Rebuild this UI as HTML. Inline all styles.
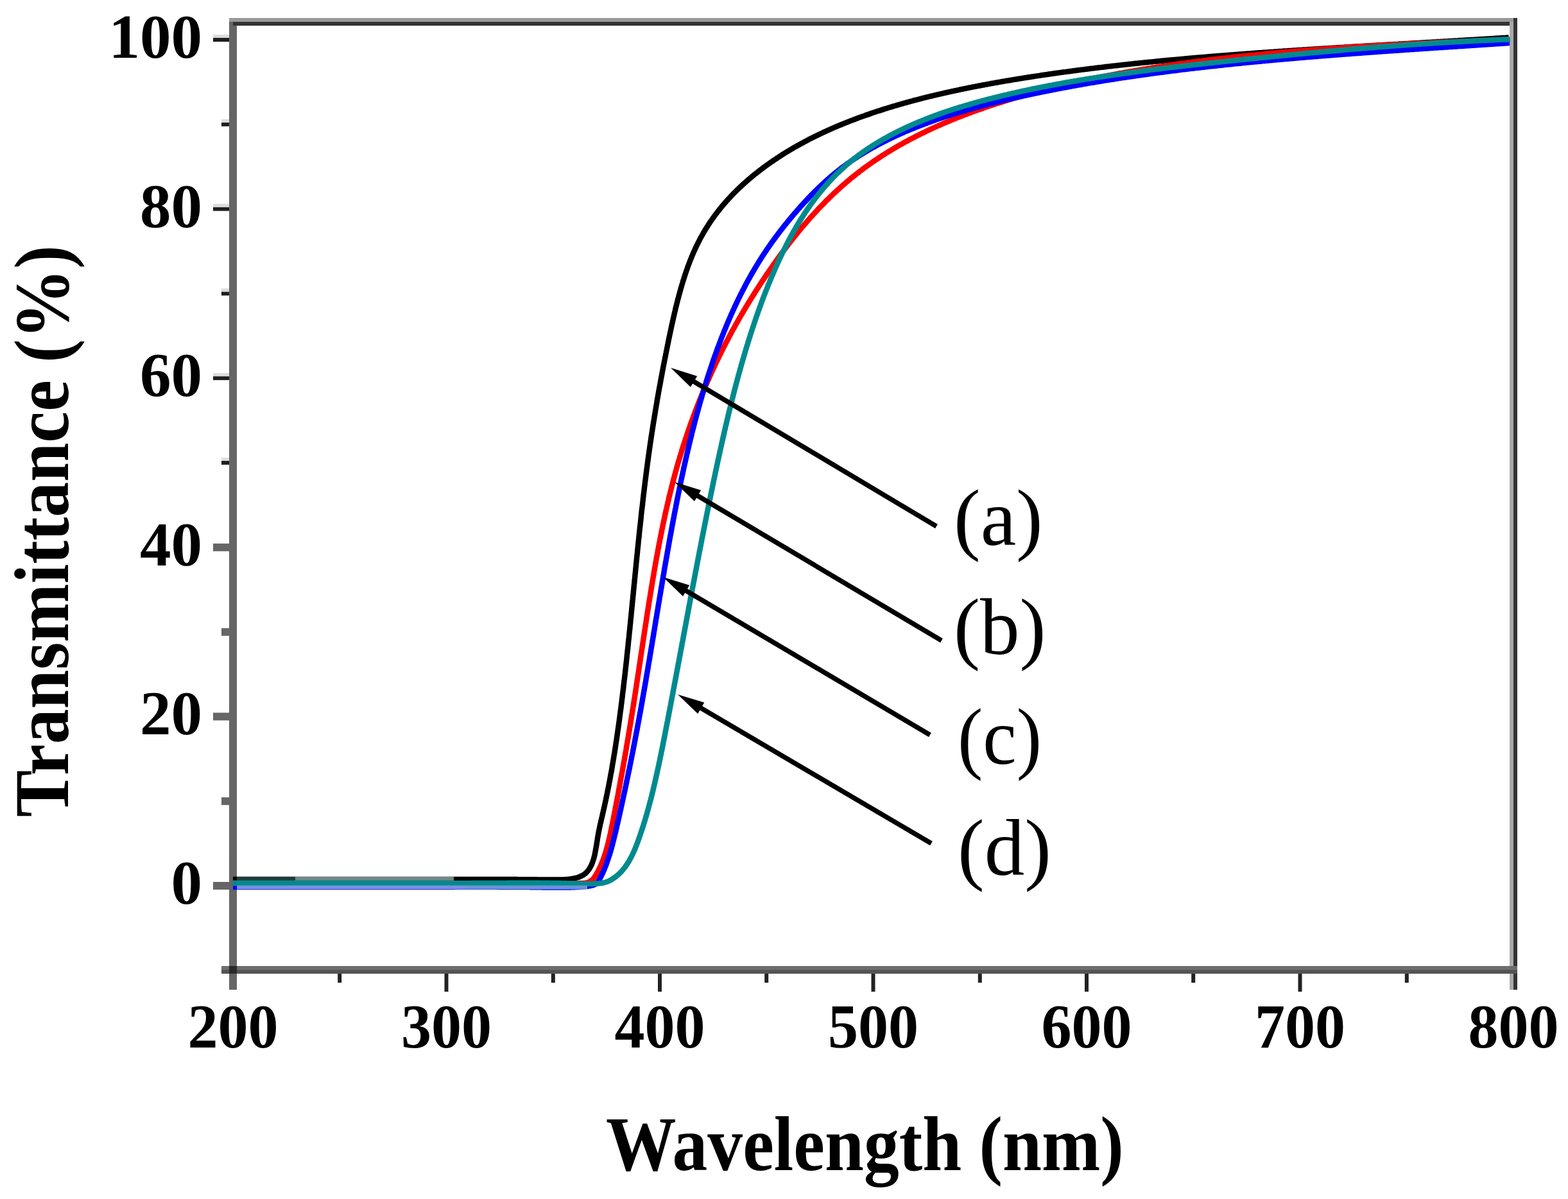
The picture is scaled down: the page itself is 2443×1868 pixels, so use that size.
<!DOCTYPE html>
<html><head><meta charset="utf-8"><title>Transmittance spectra</title>
<style>
html,body{margin:0;padding:0;background:#fff;}
body{width:2443px;height:1868px;overflow:hidden;}
svg{display:block;}
.b{font-family:"Liberation Serif","Times New Roman",serif;font-weight:bold;fill:#000;}
.t{}
.r{font-family:"Liberation Serif","Times New Roman",serif;font-weight:normal;fill:#000;}
</style></head>
<body>
<svg width="2443" height="1868" viewBox="0 0 2443 1868">
<rect width="2443" height="1868" fill="#fff"/>
<rect x="357" y="28" width="12" height="1514" fill="#666"/>
<rect x="357" y="28" width="2007" height="6" fill="#999"/>
<rect x="363" y="34" width="2001" height="6" fill="#333"/>
<rect x="2352" y="34" width="6" height="1508" fill="#aaa"/>
<rect x="2358" y="28" width="6" height="1514" fill="#333"/>
<rect x="345" y="1505" width="2019" height="6" fill="#6e6e6e"/>
<rect x="345" y="1511" width="2019" height="6" fill="#545454"/>
<rect x="357" y="1505" width="12" height="12" fill="#2a2a2a"/>
<rect x="332.0" y="1374.0" width="25" height="12" fill="#666"/>
<rect x="345.0" y="1242.2" width="12" height="12" fill="#666"/>
<rect x="332.0" y="1110.4" width="25" height="12" fill="#666"/>
<rect x="345.0" y="978.6" width="12" height="12" fill="#666"/>
<rect x="332.0" y="846.8" width="25" height="12" fill="#666"/>
<rect x="345.0" y="718.0" width="12" height="6" fill="#1e1e1e"/>
<rect x="345.0" y="713.0" width="12" height="5" fill="#dcdcdc"/>
<rect x="332.0" y="586.2" width="25" height="6" fill="#1e1e1e"/>
<rect x="332.0" y="581.2" width="25" height="5" fill="#dcdcdc"/>
<rect x="345.0" y="454.4" width="12" height="6" fill="#1e1e1e"/>
<rect x="345.0" y="449.4" width="12" height="5" fill="#dcdcdc"/>
<rect x="332.0" y="322.6" width="25" height="6" fill="#1e1e1e"/>
<rect x="332.0" y="317.6" width="25" height="5" fill="#dcdcdc"/>
<rect x="345.0" y="190.8" width="12" height="6" fill="#1e1e1e"/>
<rect x="345.0" y="185.8" width="12" height="5" fill="#dcdcdc"/>
<rect x="332.0" y="59.0" width="25" height="6" fill="#1e1e1e"/>
<rect x="332.0" y="54.0" width="25" height="5" fill="#dcdcdc"/>
<rect x="526.2" y="1517" width="6" height="14" fill="#222"/>
<rect x="692.5" y="1517" width="6" height="28" fill="#222"/>
<rect x="858.8" y="1517" width="6" height="14" fill="#222"/>
<rect x="1025.0" y="1517" width="6" height="28" fill="#222"/>
<rect x="1191.2" y="1517" width="6" height="14" fill="#222"/>
<rect x="1357.5" y="1517" width="6" height="28" fill="#222"/>
<rect x="1523.8" y="1517" width="6" height="14" fill="#222"/>
<rect x="1690.0" y="1517" width="6" height="28" fill="#222"/>
<rect x="1856.2" y="1517" width="6" height="14" fill="#222"/>
<rect x="2022.5" y="1517" width="6" height="28" fill="#222"/>
<rect x="2188.8" y="1517" width="6" height="14" fill="#222"/>
<path d="M363.0,1370.0 L365.0,1370.0 L367.0,1370.0 L369.0,1370.0 L371.0,1370.0 L373.0,1370.0 L375.0,1370.0 L377.0,1370.0 L379.0,1370.0 L381.0,1370.0 L383.0,1370.0 L385.0,1370.0 L387.0,1370.0 L389.0,1370.0 L391.0,1370.0 L393.0,1370.0 L395.0,1370.0 L397.0,1370.0 L399.0,1370.0 L401.0,1370.0 L403.0,1370.0 L405.0,1370.0 L407.0,1370.0 L409.0,1370.0 L411.0,1370.0 L413.0,1370.0 L415.0,1370.0 L417.0,1370.0 L419.0,1370.0 L421.0,1370.0 L423.0,1370.0 L425.0,1370.0 L427.0,1370.0 L429.0,1370.0 L431.0,1370.0 L433.0,1370.0 L435.0,1370.0 L437.0,1370.0 L439.0,1370.0 L441.0,1370.0 L443.0,1370.0 L445.0,1370.0 L447.0,1370.0 L449.0,1370.0 L451.0,1370.0 L453.0,1370.0 L455.0,1370.0 L457.0,1370.0 L459.0,1370.0 L461.0,1370.0 L463.0,1370.0 L465.0,1370.0 L467.0,1370.0 L469.0,1370.0 L471.0,1370.0 L473.0,1370.0 L475.0,1370.0 L477.0,1370.0 L479.0,1370.0 L481.0,1370.0 L483.0,1370.0 L485.0,1370.0 L487.0,1370.0 L489.0,1370.0 L491.0,1370.0 L493.0,1370.0 L495.0,1370.0 L497.0,1370.0 L499.0,1370.0 L501.0,1370.0 L503.0,1370.0 L505.0,1370.0 L507.0,1370.0 L509.0,1370.0 L511.0,1370.0 L513.0,1370.0 L515.0,1370.0 L517.0,1370.0 L519.0,1370.0 L521.0,1370.0 L523.0,1370.0 L525.0,1370.0 L527.0,1370.0 L529.0,1370.0 L531.0,1370.0 L533.0,1370.0 L535.0,1370.0 L537.0,1370.0 L539.0,1370.0 L541.0,1370.0 L543.0,1370.0 L545.0,1370.0 L547.0,1370.0 L549.0,1370.0 L551.0,1370.0 L553.0,1370.0 L555.0,1370.0 L557.0,1370.0 L559.0,1370.0 L561.0,1370.0 L563.0,1370.0 L565.0,1370.0 L567.0,1370.0 L569.0,1370.0 L571.0,1370.0 L573.0,1370.0 L575.0,1370.0 L577.0,1370.0 L579.0,1370.0 L581.0,1370.0 L583.0,1370.0 L585.0,1370.0 L587.0,1370.0 L589.0,1370.0 L591.0,1370.0 L593.0,1370.0 L595.0,1370.0 L597.0,1370.0 L599.0,1370.0 L601.0,1370.0 L603.0,1370.0 L605.0,1370.0 L607.0,1370.0 L609.0,1370.0 L611.0,1370.0 L613.0,1370.0 L615.0,1370.0 L617.0,1370.0 L619.0,1370.0 L621.0,1370.0 L623.0,1370.0 L625.0,1370.0 L627.0,1370.0 L629.0,1370.0 L631.0,1370.0 L633.0,1370.0 L635.0,1370.0 L637.0,1370.0 L639.0,1370.0 L641.0,1370.0 L643.0,1370.0 L645.0,1370.0 L647.0,1370.0 L649.0,1370.0 L651.0,1370.0 L653.0,1370.0 L655.0,1370.0 L657.0,1370.0 L659.0,1370.0 L661.0,1370.0 L663.0,1370.0 L665.0,1370.0 L666.9,1369.9 L668.9,1369.9 L670.9,1369.9 L672.9,1369.9 L674.9,1369.9 L676.9,1369.9 L678.9,1369.9 L680.9,1369.9 L682.9,1369.9 L684.9,1369.9 L686.9,1369.9 L688.9,1369.9 L690.9,1369.9 L692.9,1369.9 L694.9,1369.9 L696.9,1369.9 L698.9,1369.9 L700.9,1369.9 L702.9,1369.9 L704.9,1369.9 L706.9,1369.9 L708.9,1369.9 L710.9,1369.9 L712.9,1369.9 L714.9,1369.9 L716.9,1369.9 L718.9,1369.9 L720.9,1369.9 L722.9,1369.9 L724.9,1369.9 L726.9,1369.9 L728.9,1369.9 L730.9,1369.9 L732.9,1369.9 L734.9,1369.9 L736.9,1369.9 L738.9,1369.9 L740.9,1369.9 L742.9,1369.9 L744.9,1369.9 L746.9,1369.9 L748.9,1369.9 L750.9,1369.9 L752.9,1369.9 L754.9,1369.9 L757.0,1370.0 L759.0,1370.0 L761.0,1370.0 L763.0,1370.0 L765.0,1370.0 L767.0,1370.0 L769.0,1370.0 L771.0,1370.0 L773.0,1370.0 L775.0,1370.0 L777.0,1370.0 L779.0,1370.0 L781.0,1370.0 L783.0,1370.0 L785.0,1370.0 L787.1,1370.1 L789.1,1370.1 L791.1,1370.1 L793.1,1370.1 L795.1,1370.1 L797.1,1370.1 L799.1,1370.1 L801.1,1370.1 L803.1,1370.1 L805.1,1370.1 L807.2,1370.2 L809.2,1370.2 L811.2,1370.2 L813.2,1370.2 L815.2,1370.2 L817.2,1370.2 L819.2,1370.2 L821.2,1370.2 L823.3,1370.3 L825.3,1370.3 L827.3,1370.3 L829.3,1370.3 L831.3,1370.3 L833.3,1370.3 L835.3,1370.3 L837.4,1370.4 L839.4,1370.4 L841.4,1370.4 L843.4,1370.4 L845.4,1370.4 L847.4,1370.4 L849.5,1370.5 L851.5,1370.5 L853.5,1370.5 L855.5,1370.5 L857.5,1370.5 L859.5,1370.5 L861.6,1370.6 L863.6,1370.6 L865.6,1370.6 L867.6,1370.6 L869.6,1370.6 L871.5,1370.5 L873.5,1370.5 L875.4,1370.4 L877.4,1370.4 L879.3,1370.3 L881.2,1370.2 L883.0,1370.0 L884.9,1369.9 L886.7,1369.7 L888.5,1369.5 L890.2,1369.2 L891.9,1368.9 L893.6,1368.6 L895.3,1368.3 L896.9,1367.9 L898.5,1367.5 L900.1,1367.1 L901.6,1366.6 L903.0,1366.0 L904.4,1365.4 L905.8,1364.8 L907.1,1364.1 L908.4,1363.4 L909.6,1362.6 L910.8,1361.8 L911.9,1360.9 L912.9,1359.9 L913.9,1358.9 L914.9,1357.9 L915.8,1356.8 L916.7,1355.7 L917.6,1354.6 L918.4,1353.4 L919.1,1352.1 L919.8,1350.8 L920.5,1349.5 L921.2,1348.2 L921.8,1346.8 L922.4,1345.4 L923.0,1344.0 L923.5,1342.5 L924.0,1341.0 L924.5,1339.5 L925.0,1338.0 L925.4,1336.4 L925.8,1334.8 L926.2,1333.2 L926.6,1331.6 L926.9,1329.9 L927.3,1328.3 L927.6,1326.6 L927.9,1324.9 L928.2,1323.2 L928.5,1321.5 L928.8,1319.8 L929.1,1318.1 L929.4,1316.4 L929.7,1314.7 L929.9,1312.9 L930.2,1311.2 L930.5,1309.5 L930.8,1307.8 L931.0,1306.0 L931.3,1304.3 L931.6,1302.6 L931.9,1300.9 L932.2,1299.2 L932.5,1297.5 L932.8,1295.8 L933.1,1294.1 L933.5,1292.5 L933.8,1290.8 L934.2,1289.2 L934.5,1287.5 L934.9,1285.9 L935.2,1284.2 L935.6,1282.6 L936.0,1281.0 L936.4,1279.4 L936.7,1277.7 L937.1,1276.1 L937.5,1274.5 L937.9,1272.9 L938.3,1271.3 L938.6,1269.6 L939.0,1268.0 L939.4,1266.4 L939.8,1264.8 L940.1,1263.1 L940.5,1261.5 L940.9,1259.9 L941.2,1258.2 L941.6,1256.6 L942.0,1255.0 L942.3,1253.3 L942.7,1251.7 L943.0,1250.0 L943.4,1248.4 L943.8,1246.8 L944.1,1245.1 L944.4,1243.4 L944.8,1241.8 L945.1,1240.1 L945.5,1238.5 L945.8,1236.8 L946.2,1235.2 L946.5,1233.5 L946.8,1231.8 L947.2,1230.2 L947.5,1228.5 L947.8,1226.8 L948.2,1225.2 L948.5,1223.5 L948.8,1221.8 L949.1,1220.1 L949.4,1218.4 L949.8,1216.8 L950.1,1215.1 L950.4,1213.4 L950.7,1211.7 L951.0,1210.0 L951.3,1208.3 L951.6,1206.6 L951.9,1204.9 L952.3,1203.3 L952.6,1201.6 L952.9,1199.9 L953.2,1198.2 L953.5,1196.5 L953.7,1194.7 L954.0,1193.0 L954.3,1191.3 L954.6,1189.6 L954.9,1187.9 L955.2,1186.2 L955.5,1184.5 L955.8,1182.8 L956.1,1181.1 L956.3,1179.3 L956.6,1177.6 L956.9,1175.9 L957.2,1174.2 L957.5,1172.5 L957.7,1170.7 L958.0,1169.0 L958.3,1167.3 L958.6,1165.6 L958.8,1163.8 L959.1,1162.1 L959.4,1160.4 L959.6,1158.6 L959.9,1156.9 L960.1,1155.1 L960.4,1153.4 L960.7,1151.7 L960.9,1149.9 L961.2,1148.2 L961.4,1146.4 L961.7,1144.7 L961.9,1142.9 L962.2,1141.2 L962.4,1139.4 L962.7,1137.7 L962.9,1135.9 L963.2,1134.2 L963.4,1132.4 L963.7,1130.7 L963.9,1128.9 L964.2,1127.2 L964.4,1125.4 L964.7,1123.7 L964.9,1121.9 L965.1,1120.1 L965.4,1118.4 L965.6,1116.6 L965.8,1114.8 L966.1,1113.1 L966.3,1111.3 L966.5,1109.5 L966.8,1107.8 L967.0,1106.0 L967.2,1104.2 L967.5,1102.5 L967.7,1100.7 L967.9,1098.9 L968.1,1097.1 L968.4,1095.4 L968.6,1093.6 L968.8,1091.8 L969.0,1090.0 L969.2,1088.2 L969.5,1086.5 L969.7,1084.7 L969.9,1082.9 L970.1,1081.1 L970.3,1079.3 L970.5,1077.5 L970.8,1075.8 L971.0,1074.0 L971.2,1072.2 L971.4,1070.4 L971.6,1068.6 L971.8,1066.8 L972.0,1065.0 L972.2,1063.2 L972.4,1061.4 L972.6,1059.6 L972.9,1057.9 L973.1,1056.1 L973.3,1054.3 L973.5,1052.5 L973.7,1050.7 L973.9,1048.9 L974.1,1047.1 L974.3,1045.3 L974.5,1043.5 L974.7,1041.7 L974.9,1039.9 L975.1,1038.1 L975.3,1036.3 L975.5,1034.5 L975.7,1032.7 L975.9,1030.9 L976.1,1029.1 L976.3,1027.3 L976.5,1025.5 L976.7,1023.7 L976.8,1021.8 L977.0,1020.0 L977.2,1018.2 L977.4,1016.4 L977.6,1014.6 L977.8,1012.8 L978.0,1011.0 L978.2,1009.2 L978.4,1007.4 L978.6,1005.6 L978.8,1003.8 L978.9,1001.9 L979.1,1000.1 L979.3,998.3 L979.5,996.5 L979.7,994.7 L979.9,992.9 L980.1,991.1 L980.2,989.2 L980.4,987.4 L980.6,985.6 L980.8,983.8 L981.0,982.0 L981.2,980.2 L981.4,978.4 L981.5,976.5 L981.7,974.7 L981.9,972.9 L982.1,971.1 L982.3,969.3 L982.4,967.4 L982.6,965.6 L982.8,963.8 L983.0,962.0 L983.2,960.2 L983.4,958.4 L983.5,956.5 L983.7,954.7 L983.9,952.9 L984.1,951.1 L984.3,949.3 L984.4,947.4 L984.6,945.6 L984.8,943.8 L985.0,942.0 L985.1,940.1 L985.3,938.3 L985.5,936.5 L985.7,934.7 L985.9,932.9 L986.0,931.0 L986.2,929.2 L986.4,927.4 L986.6,925.6 L986.8,923.8 L986.9,921.9 L987.1,920.1 L987.3,918.3 L987.5,916.5 L987.6,914.6 L987.8,912.8 L988.0,911.0 L988.2,909.2 L988.4,907.4 L988.5,905.5 L988.7,903.7 L988.9,901.9 L989.1,900.1 L989.3,898.3 L989.4,896.4 L989.6,894.6 L989.8,892.8 L990.0,891.0 L990.2,889.2 L990.3,887.3 L990.5,885.5 L990.7,883.7 L990.9,881.9 L991.1,880.1 L991.2,878.2 L991.4,876.4 L991.6,874.6 L991.8,872.8 L992.0,871.0 L992.1,869.1 L992.3,867.3 L992.5,865.5 L992.7,863.7 L992.9,861.9 L993.1,860.1 L993.2,858.2 L993.4,856.4 L993.6,854.6 L993.8,852.8 L994.0,851.0 L994.2,849.2 L994.4,847.4 L994.5,845.5 L994.7,843.7 L994.9,841.9 L995.1,840.1 L995.3,838.3 L995.5,836.5 L995.7,834.7 L995.9,832.9 L996.0,831.0 L996.2,829.2 L996.4,827.4 L996.6,825.6 L996.8,823.8 L997.0,822.0 L997.2,820.2 L997.4,818.4 L997.6,816.6 L997.8,814.8 L998.0,813.0 L998.2,811.2 L998.4,809.4 L998.6,807.6 L998.8,805.8 L998.9,803.9 L999.1,802.1 L999.3,800.3 L999.5,798.5 L999.7,796.7 L999.9,794.9 L1000.1,793.1 L1000.4,791.4 L1000.6,789.6 L1000.8,787.8 L1001.0,786.0 L1001.2,784.2 L1001.4,782.4 L1001.6,780.6 L1001.8,778.8 L1002.0,777.0 L1002.2,775.2 L1002.4,773.4 L1002.6,771.6 L1002.8,769.8 L1003.0,768.0 L1003.3,766.3 L1003.5,764.5 L1003.7,762.7 L1003.9,760.9 L1004.1,759.1 L1004.3,757.3 L1004.6,755.6 L1004.8,753.8 L1005.0,752.0 L1005.2,750.2 L1005.4,748.4 L1005.7,746.7 L1005.9,744.9 L1006.1,743.1 L1006.3,741.3 L1006.6,739.6 L1006.8,737.8 L1007.0,736.0 L1007.2,734.2 L1007.5,732.5 L1007.7,730.7 L1007.9,728.9 L1008.2,727.2 L1008.4,725.4 L1008.6,723.6 L1008.9,721.9 L1009.1,720.1 L1009.3,718.3 L1009.6,716.6 L1009.8,714.8 L1010.1,713.1 L1010.3,711.3 L1010.5,709.5 L1010.8,707.8 L1011.0,706.0 L1011.3,704.3 L1011.5,702.5 L1011.8,700.8 L1012.0,699.0 L1012.3,697.3 L1012.5,695.5 L1012.8,693.8 L1013.0,692.0 L1013.3,690.3 L1013.5,688.5 L1013.8,686.8 L1014.1,685.1 L1014.3,683.3 L1014.6,681.6 L1014.8,679.8 L1015.1,678.1 L1015.4,676.4 L1015.6,674.6 L1015.9,672.9 L1016.2,671.2 L1016.4,669.4 L1016.7,667.7 L1017.0,666.0 L1017.2,664.2 L1017.5,662.5 L1017.8,660.8 L1018.1,659.1 L1018.3,657.3 L1018.6,655.6 L1018.9,653.9 L1019.2,652.2 L1019.4,650.4 L1019.7,648.7 L1020.0,647.0 L1020.3,645.3 L1020.6,643.6 L1020.9,641.9 L1021.1,640.1 L1021.4,638.4 L1021.7,636.7 L1022.0,635.0 L1022.3,633.3 L1022.6,631.6 L1022.9,629.9 L1023.2,628.2 L1023.5,626.5 L1023.7,624.7 L1024.0,623.0 L1024.3,621.3 L1024.6,619.6 L1024.9,617.9 L1025.2,616.2 L1025.5,614.5 L1025.8,612.8 L1026.1,611.1 L1026.4,609.4 L1026.7,607.7 L1027.0,606.0 L1027.3,604.3 L1027.6,602.6 L1028.0,601.0 L1028.3,599.3 L1028.6,597.6 L1028.9,595.9 L1029.2,594.2 L1029.5,592.5 L1029.8,590.8 L1030.1,589.1 L1030.4,587.4 L1030.8,585.8 L1031.1,584.1 L1031.4,582.4 L1031.7,580.7 L1032.0,579.0 L1032.3,577.3 L1032.7,575.7 L1033.0,574.0 L1033.3,572.3 L1033.6,570.6 L1033.9,568.9 L1034.3,567.3 L1034.6,565.6 L1034.9,563.9 L1035.2,562.2 L1035.6,560.6 L1035.9,558.9 L1036.2,557.2 L1036.6,555.6 L1036.9,553.9 L1037.2,552.2 L1037.6,550.6 L1037.9,548.9 L1038.2,547.2 L1038.6,545.6 L1038.9,543.9 L1039.2,542.2 L1039.6,540.6 L1039.9,538.9 L1040.2,537.2 L1040.6,535.6 L1040.9,533.9 L1041.3,532.3 L1041.6,530.6 L1041.9,528.9 L1042.3,527.3 L1042.6,525.6 L1043.0,524.0 L1043.3,522.3 L1043.7,520.7 L1044.0,519.0 L1044.4,517.4 L1044.7,515.7 L1045.1,514.1 L1045.4,512.4 L1045.8,510.8 L1046.1,509.1 L1046.5,507.5 L1046.8,505.8 L1047.2,504.2 L1047.6,502.6 L1047.9,500.9 L1048.3,499.3 L1048.7,497.7 L1049.0,496.0 L1049.4,494.4 L1049.8,492.8 L1050.2,491.2 L1050.5,489.5 L1050.9,487.9 L1051.3,486.3 L1051.7,484.7 L1052.1,483.1 L1052.4,481.4 L1052.8,479.8 L1053.2,478.2 L1053.6,476.6 L1054.0,475.0 L1054.4,473.4 L1054.8,471.8 L1055.2,470.2 L1055.6,468.6 L1056.0,467.0 L1056.4,465.4 L1056.9,463.9 L1057.3,462.3 L1057.7,460.7 L1058.1,459.1 L1058.6,457.6 L1059.0,456.0 L1059.4,454.4 L1059.9,452.9 L1060.3,451.3 L1060.7,449.7 L1061.2,448.2 L1061.6,446.6 L1062.1,445.1 L1062.5,443.5 L1063.0,442.0 L1063.5,440.5 L1063.9,438.9 L1064.4,437.4 L1064.9,435.9 L1065.4,434.4 L1065.8,432.8 L1066.3,431.3 L1066.8,429.8 L1067.3,428.3 L1067.8,426.8 L1068.3,425.3 L1068.8,423.8 L1069.3,422.3 L1069.8,420.8 L1070.4,419.4 L1070.9,417.9 L1071.4,416.4 L1071.9,414.9 L1072.5,413.5 L1073.0,412.0 L1073.6,410.6 L1074.1,409.1 L1074.7,407.7 L1075.2,406.2 L1075.8,404.8 L1076.4,403.4 L1077.0,402.0 L1077.5,400.5 L1078.1,399.1 L1078.7,397.7 L1079.3,396.3 L1079.9,394.9 L1080.5,393.5 L1081.1,392.1 L1081.7,390.7 L1082.4,389.4 L1083.0,388.0 L1083.6,386.6 L1084.3,385.3 L1084.9,383.9 L1085.5,382.5 L1086.2,381.2 L1086.9,379.9 L1087.5,378.5 L1088.2,377.2 L1088.9,375.9 L1089.6,374.6 L1090.2,373.2 L1090.9,371.9 L1091.6,370.6 L1092.3,369.3 L1093.1,368.1 L1093.8,366.8 L1094.5,365.5 L1095.2,364.2 L1095.9,362.9 L1096.7,361.7 L1097.4,360.4 L1098.2,359.2 L1098.9,357.9 L1099.7,356.7 L1100.4,355.4 L1101.2,354.2 L1102.0,353.0 L1102.8,351.8 L1103.5,350.5 L1104.3,349.3 L1105.1,348.1 L1105.9,346.9 L1106.7,345.7 L1107.5,344.5 L1108.4,343.4 L1109.2,342.2 L1110.0,341.0 L1110.8,339.8 L1111.7,338.7 L1112.5,337.5 L1113.3,336.3 L1114.2,335.2 L1115.0,334.0 L1115.9,332.9 L1116.8,331.8 L1117.6,330.6 L1118.5,329.5 L1119.4,328.4 L1120.3,327.3 L1121.1,326.1 L1122.0,325.0 L1122.9,323.9 L1123.8,322.8 L1124.7,321.7 L1125.6,320.6 L1126.6,319.6 L1127.5,318.5 L1128.4,317.4 L1129.3,316.3 L1130.3,315.3 L1131.2,314.2 L1132.1,313.1 L1133.1,312.1 L1134.0,311.0 L1135.0,310.0 L1135.9,308.9 L1136.9,307.9 L1137.9,306.9 L1138.8,305.8 L1139.8,304.8 L1140.8,303.8 L1141.8,302.8 L1142.7,301.7 L1143.7,300.7 L1144.7,299.7 L1145.7,298.7 L1146.7,297.7 L1147.7,296.7 L1148.7,295.7 L1149.8,294.8 L1150.8,293.8 L1151.8,292.8 L1152.8,291.8 L1153.9,290.9 L1154.9,289.9 L1155.9,288.9 L1157.0,288.0 L1158.0,287.0 L1159.1,286.1 L1160.1,285.1 L1161.2,284.2 L1162.2,283.2 L1163.3,282.3 L1164.4,281.4 L1165.4,280.4 L1166.5,279.5 L1167.6,278.6 L1168.7,277.7 L1169.8,276.8 L1170.9,275.9 L1171.9,274.9 L1173.0,274.0 L1174.1,273.1 L1175.2,272.2 L1176.3,271.3 L1177.5,270.5 L1178.6,269.6 L1179.7,268.7 L1180.8,267.8 L1181.9,266.9 L1183.1,266.1 L1184.2,265.2 L1185.3,264.3 L1186.5,263.5 L1187.6,262.6 L1188.7,261.7 L1189.9,260.9 L1191.0,260.0 L1192.2,259.2 L1193.3,258.3 L1194.5,257.5 L1195.7,256.7 L1196.8,255.8 L1198.0,255.0 L1199.2,254.2 L1200.3,253.3 L1201.5,252.5 L1202.7,251.7 L1203.9,250.9 L1205.1,250.1 L1206.3,249.3 L1207.5,248.5 L1208.7,247.7 L1209.9,246.9 L1211.1,246.1 L1212.3,245.3 L1213.5,244.5 L1214.7,243.7 L1215.9,242.9 L1217.1,242.1 L1218.3,241.3 L1219.6,240.6 L1220.8,239.8 L1222.0,239.0 L1223.3,238.3 L1224.5,237.5 L1225.7,236.7 L1227.0,236.0 L1228.2,235.2 L1229.5,234.5 L1230.7,233.7 L1232.0,233.0 L1233.2,232.2 L1234.5,231.5 L1235.8,230.8 L1237.0,230.0 L1238.3,229.3 L1239.6,228.6 L1240.9,227.9 L1242.1,227.1 L1243.4,226.4 L1244.7,225.7 L1246.0,225.0 L1247.3,224.3 L1248.6,223.6 L1249.9,222.9 L1251.2,222.2 L1252.5,221.5 L1253.8,220.8 L1255.1,220.1 L1256.4,219.4 L1257.7,218.7 L1259.0,218.0 L1260.3,217.3 L1261.6,216.6 L1263.0,216.0 L1264.3,215.3 L1265.6,214.6 L1267.0,214.0 L1268.3,213.3 L1269.6,212.6 L1271.0,212.0 L1272.3,211.3 L1273.7,210.7 L1275.0,210.0 L1276.4,209.4 L1277.7,208.7 L1279.1,208.1 L1280.4,207.4 L1281.8,206.8 L1283.1,206.1 L1284.5,205.5 L1285.9,204.9 L1287.3,204.3 L1288.6,203.6 L1290.0,203.0 L1291.4,202.4 L1292.8,201.8 L1294.2,201.2 L1295.5,200.5 L1296.9,199.9 L1298.3,199.3 L1299.7,198.7 L1301.1,198.1 L1302.5,197.5 L1303.9,196.9 L1305.3,196.3 L1306.7,195.7 L1308.1,195.1 L1309.6,194.6 L1311.0,194.0 L1312.4,193.4 L1313.8,192.8 L1315.2,192.2 L1316.7,191.7 L1318.1,191.1 L1319.5,190.5 L1321.0,190.0 L1322.4,189.4 L1323.8,188.8 L1325.3,188.3 L1326.7,187.7 L1328.2,187.2 L1329.6,186.6 L1331.1,186.1 L1332.5,185.5 L1334.0,185.0 L1335.4,184.4 L1336.9,183.9 L1338.3,183.3 L1339.8,182.8 L1341.3,182.3 L1342.7,181.7 L1344.2,181.2 L1345.7,180.7 L1347.2,180.2 L1348.6,179.6 L1350.1,179.1 L1351.6,178.6 L1353.1,178.1 L1354.6,177.6 L1356.1,177.1 L1357.5,176.5 L1359.0,176.0 L1360.5,175.5 L1362.0,175.0 L1363.5,174.5 L1365.0,174.0 L1366.5,173.5 L1368.0,173.0 L1369.6,172.6 L1371.1,172.1 L1372.6,171.6 L1374.1,171.1 L1375.6,170.6 L1377.1,170.1 L1378.6,169.6 L1380.2,169.2 L1381.7,168.7 L1383.2,168.2 L1384.8,167.8 L1386.3,167.3 L1387.8,166.8 L1389.4,166.4 L1390.9,165.9 L1392.4,165.4 L1394.0,165.0 L1395.5,164.5 L1397.1,164.1 L1398.6,163.6 L1400.2,163.2 L1401.7,162.7 L1403.3,162.3 L1404.8,161.8 L1406.4,161.4 L1407.9,160.9 L1409.5,160.5 L1411.1,160.1 L1412.6,159.6 L1414.2,159.2 L1415.8,158.8 L1417.3,158.3 L1418.9,157.9 L1420.5,157.5 L1422.1,157.1 L1423.6,156.6 L1425.2,156.2 L1426.8,155.8 L1428.4,155.4 L1430.0,155.0 L1431.6,154.6 L1433.2,154.2 L1434.7,153.7 L1436.3,153.3 L1437.9,152.9 L1439.5,152.5 L1441.1,152.1 L1442.7,151.7 L1444.3,151.3 L1445.9,150.9 L1447.5,150.5 L1449.1,150.1 L1450.8,149.8 L1452.4,149.4 L1454.0,149.0 L1455.6,148.6 L1457.2,148.2 L1458.8,147.8 L1460.4,147.4 L1462.1,147.1 L1463.7,146.7 L1465.3,146.3 L1466.9,145.9 L1468.6,145.6 L1470.2,145.2 L1471.8,144.8 L1473.5,144.5 L1475.1,144.1 L1476.7,143.7 L1478.4,143.4 L1480.0,143.0 L1481.6,142.6 L1483.3,142.3 L1484.9,141.9 L1486.6,141.6 L1488.2,141.2 L1489.9,140.9 L1491.5,140.5 L1493.2,140.2 L1494.8,139.8 L1496.5,139.5 L1498.1,139.1 L1499.8,138.8 L1501.4,138.4 L1503.1,138.1 L1504.8,137.8 L1506.4,137.4 L1508.1,137.1 L1509.7,136.7 L1511.4,136.4 L1513.1,136.1 L1514.7,135.7 L1516.4,135.4 L1518.1,135.1 L1519.8,134.8 L1521.4,134.4 L1523.1,134.1 L1524.8,133.8 L1526.5,133.5 L1528.2,133.2 L1529.8,132.8 L1531.5,132.5 L1533.2,132.2 L1534.9,131.9 L1536.6,131.6 L1538.3,131.3 L1539.9,130.9 L1541.6,130.6 L1543.3,130.3 L1545.0,130.0 L1546.7,129.7 L1548.4,129.4 L1550.1,129.1 L1551.8,128.8 L1553.5,128.5 L1555.2,128.2 L1556.9,127.9 L1558.6,127.6 L1560.3,127.3 L1562.0,127.0 L1563.7,126.7 L1565.4,126.4 L1567.1,126.1 L1568.8,125.8 L1570.6,125.6 L1572.3,125.3 L1574.0,125.0 L1575.7,124.7 L1577.4,124.4 L1579.1,124.1 L1580.8,123.8 L1582.6,123.6 L1584.3,123.3 L1586.0,123.0 L1587.7,122.7 L1589.4,122.4 L1591.2,122.2 L1592.9,121.9 L1594.6,121.6 L1596.3,121.3 L1598.1,121.1 L1599.8,120.8 L1601.5,120.5 L1603.2,120.2 L1605.0,120.0 L1606.7,119.7 L1608.4,119.4 L1610.2,119.2 L1611.9,118.9 L1613.6,118.6 L1615.4,118.4 L1617.1,118.1 L1618.9,117.9 L1620.6,117.6 L1622.3,117.3 L1624.1,117.1 L1625.8,116.8 L1627.6,116.6 L1629.3,116.3 L1631.1,116.1 L1632.8,115.8 L1634.5,115.5 L1636.3,115.3 L1638.0,115.0 L1639.8,114.8 L1641.5,114.5 L1643.3,114.3 L1645.0,114.0 L1646.8,113.8 L1648.6,113.6 L1650.3,113.3 L1652.1,113.1 L1653.8,112.8 L1655.6,112.6 L1657.3,112.3 L1659.1,112.1 L1660.9,111.9 L1662.6,111.6 L1664.4,111.4 L1666.2,111.2 L1667.9,110.9 L1669.7,110.7 L1671.4,110.4 L1673.2,110.2 L1675.0,110.0 L1676.7,109.7 L1678.5,109.5 L1680.3,109.3 L1682.1,109.1 L1683.8,108.8 L1685.6,108.6 L1687.4,108.4 L1689.2,108.2 L1690.9,107.9 L1692.7,107.7 L1694.5,107.5 L1696.3,107.3 L1698.0,107.0 L1699.8,106.8 L1701.6,106.6 L1703.4,106.4 L1705.2,106.2 L1706.9,105.9 L1708.7,105.7 L1710.5,105.5 L1712.3,105.3 L1714.1,105.1 L1715.9,104.9 L1717.7,104.7 L1719.5,104.5 L1721.2,104.2 L1723.0,104.0 L1724.8,103.8 L1726.6,103.6 L1728.4,103.4 L1730.2,103.2 L1732.0,103.0 L1733.8,102.8 L1735.6,102.6 L1737.4,102.4 L1739.2,102.2 L1741.0,102.0 L1742.8,101.8 L1744.6,101.6 L1746.4,101.4 L1748.2,101.2 L1750.0,101.0 L1751.8,100.8 L1753.6,100.6 L1755.4,100.4 L1757.2,100.2 L1759.0,100.0 L1760.8,99.8 L1762.6,99.6 L1764.4,99.4 L1766.2,99.2 L1768.0,99.0 L1769.8,98.8 L1771.7,98.7 L1773.5,98.5 L1775.3,98.3 L1777.1,98.1 L1778.9,97.9 L1780.7,97.7 L1782.5,97.5 L1784.3,97.3 L1786.2,97.2 L1788.0,97.0 L1789.8,96.8 L1791.6,96.6 L1793.4,96.4 L1795.3,96.3 L1797.1,96.1 L1798.9,95.9 L1800.7,95.7 L1802.5,95.5 L1804.4,95.4 L1806.2,95.2 L1808.0,95.0 L1809.8,94.8 L1811.7,94.7 L1813.5,94.5 L1815.3,94.3 L1817.1,94.1 L1819.0,94.0 L1820.8,93.8 L1822.6,93.6 L1824.5,93.5 L1826.3,93.3 L1828.1,93.1 L1829.9,92.9 L1831.8,92.8 L1833.6,92.6 L1835.4,92.4 L1837.3,92.3 L1839.1,92.1 L1840.9,91.9 L1842.8,91.8 L1844.6,91.6 L1846.5,91.5 L1848.3,91.3 L1850.1,91.1 L1852.0,91.0 L1853.8,90.8 L1855.6,90.6 L1857.5,90.5 L1859.3,90.3 L1861.2,90.2 L1863.0,90.0 L1864.8,89.8 L1866.7,89.7 L1868.5,89.5 L1870.4,89.4 L1872.2,89.2 L1874.1,89.1 L1875.9,88.9 L1877.8,88.8 L1879.6,88.6 L1881.5,88.5 L1883.3,88.3 L1885.1,88.1 L1887.0,88.0 L1888.8,87.8 L1890.7,87.7 L1892.5,87.5 L1894.4,87.4 L1896.2,87.2 L1898.1,87.1 L1900.0,87.0 L1901.8,86.8 L1903.7,86.7 L1905.5,86.5 L1907.4,86.4 L1909.2,86.2 L1911.1,86.1 L1912.9,85.9 L1914.8,85.8 L1916.6,85.6 L1918.5,85.5 L1920.4,85.4 L1922.2,85.2 L1924.1,85.1 L1925.9,84.9 L1927.8,84.8 L1929.6,84.6 L1931.5,84.5 L1933.4,84.4 L1935.2,84.2 L1937.1,84.1 L1939.0,84.0 L1940.8,83.8 L1942.7,83.7 L1944.5,83.5 L1946.4,83.4 L1948.3,83.3 L1950.1,83.1 L1952.0,83.0 L1953.9,82.9 L1955.7,82.7 L1957.6,82.6 L1959.5,82.5 L1961.3,82.3 L1963.2,82.2 L1965.1,82.1 L1966.9,81.9 L1968.8,81.8 L1970.7,81.7 L1972.5,81.5 L1974.4,81.4 L1976.3,81.3 L1978.1,81.1 L1980.0,81.0 L1981.9,80.9 L1983.8,80.8 L1985.6,80.6 L1987.5,80.5 L1989.4,80.4 L1991.2,80.2 L1993.1,80.1 L1995.0,80.0 L1996.9,79.9 L1998.7,79.7 L2000.6,79.6 L2002.5,79.5 L2004.4,79.4 L2006.2,79.2 L2008.1,79.1 L2010.0,79.0 L2011.9,78.9 L2013.7,78.7 L2015.6,78.6 L2017.5,78.5 L2019.4,78.4 L2021.2,78.2 L2023.1,78.1 L2025.0,78.0 L2026.9,77.9 L2028.7,77.7 L2030.6,77.6 L2032.5,77.5 L2034.4,77.4 L2036.3,77.3 L2038.1,77.1 L2040.0,77.0 L2041.9,76.9 L2043.8,76.8 L2045.7,76.7 L2047.5,76.5 L2049.4,76.4 L2051.3,76.3 L2053.2,76.2 L2055.1,76.1 L2057.0,76.0 L2058.8,75.8 L2060.7,75.7 L2062.6,75.6 L2064.5,75.5 L2066.4,75.4 L2068.3,75.3 L2070.1,75.1 L2072.0,75.0 L2073.9,74.9 L2075.8,74.8 L2077.7,74.7 L2079.6,74.6 L2081.4,74.4 L2083.3,74.3 L2085.2,74.2 L2087.1,74.1 L2089.0,74.0 L2090.9,73.9 L2092.8,73.8 L2094.6,73.6 L2096.5,73.5 L2098.4,73.4 L2100.3,73.3 L2102.2,73.2 L2104.1,73.1 L2106.0,73.0 L2107.8,72.8 L2109.7,72.7 L2111.6,72.6 L2113.5,72.5 L2115.4,72.4 L2117.3,72.3 L2119.2,72.2 L2121.1,72.1 L2123.0,72.0 L2124.8,71.8 L2126.7,71.7 L2128.6,71.6 L2130.5,71.5 L2132.4,71.4 L2134.3,71.3 L2136.2,71.2 L2138.1,71.1 L2140.0,71.0 L2141.8,70.8 L2143.7,70.7 L2145.6,70.6 L2147.5,70.5 L2149.4,70.4 L2151.3,70.3 L2153.2,70.2 L2155.1,70.1 L2157.0,70.0 L2158.8,69.8 L2160.7,69.7 L2162.6,69.6 L2164.5,69.5 L2166.4,69.4 L2168.3,69.3 L2170.2,69.2 L2172.1,69.1 L2174.0,69.0 L2175.9,68.9 L2177.8,68.8 L2179.6,68.6 L2181.5,68.5 L2183.4,68.4 L2185.3,68.3 L2187.2,68.2 L2189.1,68.1 L2191.0,68.0 L2192.9,67.9 L2194.8,67.8 L2196.7,67.7 L2198.5,67.5 L2200.4,67.4 L2202.3,67.3 L2204.2,67.2 L2206.1,67.1 L2208.0,67.0 L2209.9,66.9 L2211.8,66.8 L2213.7,66.7 L2215.6,66.6 L2217.5,66.5 L2219.3,66.3 L2221.2,66.2 L2223.1,66.1 L2225.0,66.0 L2226.9,65.9 L2228.8,65.8 L2230.7,65.7 L2232.6,65.6 L2234.5,65.5 L2236.4,65.4 L2238.2,65.2 L2240.1,65.1 L2242.0,65.0 L2243.9,64.9 L2245.8,64.8 L2247.7,64.7 L2249.6,64.6 L2251.5,64.5 L2253.4,64.4 L2255.3,64.3 L2257.1,64.1 L2259.0,64.0 L2260.9,63.9 L2262.8,63.8 L2264.7,63.7 L2266.6,63.6 L2268.5,63.5 L2270.4,63.4 L2272.2,63.2 L2274.1,63.1 L2276.0,63.0 L2277.9,62.9 L2279.8,62.8 L2281.7,62.7 L2283.6,62.6 L2285.5,62.5 L2287.3,62.3 L2289.2,62.2 L2291.1,62.1 L2293.0,62.0 L2294.9,61.9 L2296.8,61.8 L2298.7,61.7 L2300.6,61.6 L2302.4,61.4 L2304.3,61.3 L2306.2,61.2 L2308.1,61.1 L2310.0,61.0 L2311.9,60.9 L2313.8,60.8 L2315.6,60.6 L2317.5,60.5 L2319.4,60.4 L2321.3,60.3 L2323.2,60.2 L2325.1,60.1 L2326.9,59.9 L2328.8,59.8 L2330.7,59.7 L2332.6,59.6 L2334.5,59.5 L2336.4,59.4 L2338.2,59.2 L2340.1,59.1 L2342.0,59.0 L2343.9,58.9 L2345.8,58.8 L2347.6,58.6 L2349.5,58.5 L2350.5,58.5" fill="none" stroke="#000" stroke-width="8.5" stroke-linejoin="round"/>
<rect x="460" y="1366" width="247" height="7" fill="#6f8a88"/>
<rect x="369" y="1366" width="91" height="7" fill="#1f3c3c"/>
<path d="M363.1,1376.1 L365.0,1376.0 L367.0,1376.0 L369.0,1376.0 L371.0,1376.0 L373.0,1376.0 L375.0,1376.0 L377.0,1376.0 L379.0,1376.0 L381.0,1376.0 L383.0,1376.0 L385.0,1376.0 L387.0,1376.0 L389.0,1376.0 L391.0,1376.0 L393.0,1376.0 L395.0,1376.0 L397.0,1376.0 L399.0,1376.0 L401.0,1376.0 L403.0,1376.0 L405.0,1376.0 L407.0,1376.0 L409.0,1376.0 L411.0,1376.0 L413.0,1376.0 L415.0,1376.0 L417.0,1376.0 L419.0,1376.0 L421.0,1376.0 L423.0,1376.0 L424.9,1375.9 L426.9,1375.9 L428.9,1375.9 L430.9,1375.9 L432.9,1375.9 L434.9,1375.9 L436.9,1375.9 L438.9,1375.9 L440.9,1375.9 L442.9,1375.9 L444.9,1375.9 L446.9,1375.9 L449.0,1376.0 L451.0,1376.0 L453.0,1376.0 L455.0,1376.0 L457.0,1376.0 L459.0,1376.0 L461.0,1376.0 L463.0,1376.0 L465.0,1376.0 L467.0,1376.0 L469.0,1376.0 L471.0,1376.0 L473.0,1376.0 L475.0,1376.0 L477.0,1376.0 L479.0,1376.0 L481.0,1376.0 L483.0,1376.0 L485.0,1376.0 L487.0,1376.0 L489.0,1376.0 L491.0,1376.0 L493.0,1376.0 L495.0,1376.0 L497.0,1376.0 L499.0,1376.0 L501.0,1376.0 L503.0,1376.0 L505.0,1376.0 L507.0,1376.0 L509.0,1376.0 L511.0,1376.0 L513.0,1376.0 L515.0,1376.0 L517.0,1376.0 L519.0,1376.0 L521.0,1376.0 L523.0,1376.0 L525.0,1376.0 L527.0,1376.0 L529.0,1376.0 L531.0,1376.0 L533.0,1376.0 L535.0,1376.0 L537.0,1376.0 L539.0,1376.0 L541.0,1376.0 L543.0,1376.0 L545.0,1376.0 L547.1,1376.1 L549.1,1376.1 L551.1,1376.1 L553.1,1376.1 L555.1,1376.1 L557.1,1376.1 L559.1,1376.1 L561.1,1376.1 L563.1,1376.1 L565.1,1376.1 L567.1,1376.1 L569.1,1376.1 L571.1,1376.1 L573.1,1376.1 L575.1,1376.1 L577.1,1376.1 L579.1,1376.1 L581.1,1376.1 L583.1,1376.1 L585.1,1376.1 L587.1,1376.1 L589.1,1376.1 L591.1,1376.1 L593.1,1376.1 L595.1,1376.1 L597.1,1376.1 L599.1,1376.1 L601.1,1376.1 L603.1,1376.1 L605.1,1376.1 L607.1,1376.1 L609.1,1376.1 L611.1,1376.1 L613.1,1376.1 L615.1,1376.1 L617.1,1376.1 L619.1,1376.1 L621.1,1376.1 L623.1,1376.1 L625.1,1376.1 L627.1,1376.1 L629.1,1376.1 L631.0,1376.0 L633.0,1376.0 L635.0,1376.0 L637.0,1376.0 L639.0,1376.0 L641.0,1376.0 L643.0,1376.0 L645.0,1376.0 L647.0,1376.0 L649.0,1376.0 L651.0,1376.0 L653.0,1376.0 L655.0,1376.0 L657.0,1376.0 L659.0,1376.0 L661.0,1376.0 L663.0,1376.0 L665.0,1376.0 L667.0,1376.0 L669.0,1376.0 L671.0,1376.0 L673.0,1376.0 L675.0,1376.0 L677.0,1376.0 L679.0,1376.0 L681.0,1376.0 L683.0,1376.0 L685.0,1376.0 L686.9,1375.9 L688.9,1375.9 L690.9,1375.9 L692.9,1375.9 L694.9,1375.9 L696.9,1375.9 L698.9,1375.9 L700.9,1375.9 L702.9,1375.9 L704.9,1375.9 L706.9,1375.9 L708.9,1375.9 L710.9,1375.9 L712.9,1375.9 L714.9,1375.9 L716.9,1375.9 L718.9,1375.9 L720.9,1375.9 L722.9,1375.9 L724.9,1375.9 L726.9,1375.9 L728.9,1375.9 L730.9,1375.9 L732.9,1375.9 L734.9,1375.9 L736.9,1375.9 L738.9,1375.9 L740.9,1375.9 L742.9,1375.9 L744.9,1375.9 L746.9,1375.9 L748.9,1375.9 L750.9,1375.9 L752.9,1375.9 L754.9,1375.9 L756.9,1375.9 L758.9,1375.9 L760.9,1375.9 L762.9,1375.9 L764.9,1375.9 L766.9,1375.9 L768.9,1375.9 L770.9,1375.9 L772.9,1375.9 L774.9,1375.9 L776.9,1375.9 L778.9,1375.9 L780.9,1375.9 L782.9,1375.9 L784.9,1375.9 L786.9,1375.9 L788.9,1375.9 L790.9,1375.9 L792.9,1375.9 L794.9,1375.9 L796.9,1375.9 L798.9,1375.9 L801.0,1376.0 L803.0,1376.0 L805.0,1376.0 L807.0,1376.0 L809.0,1376.0 L811.0,1376.0 L813.0,1376.0 L815.0,1376.0 L817.0,1376.0 L819.0,1376.0 L821.0,1376.0 L823.0,1376.0 L825.1,1376.1 L827.1,1376.1 L829.1,1376.1 L831.1,1376.1 L833.1,1376.1 L835.1,1376.1 L837.1,1376.1 L839.1,1376.1 L841.2,1376.2 L843.2,1376.2 L845.2,1376.2 L847.2,1376.2 L849.2,1376.2 L851.2,1376.2 L853.2,1376.2 L855.3,1376.3 L857.3,1376.3 L859.3,1376.3 L861.3,1376.3 L863.3,1376.3 L865.4,1376.4 L867.4,1376.4 L869.4,1376.4 L871.4,1376.4 L873.4,1376.4 L875.4,1376.4 L877.4,1376.4 L879.4,1376.4 L881.4,1376.4 L883.4,1376.4 L885.4,1376.4 L887.4,1376.4 L889.4,1376.4 L891.4,1376.4 L893.3,1376.3 L895.3,1376.3 L897.3,1376.3 L899.2,1376.2 L901.2,1376.2 L903.1,1376.1 L905.0,1376.0 L907.0,1376.0 L908.9,1375.9 L910.7,1375.7 L912.5,1375.5 L914.2,1375.2 L915.8,1374.8 L917.3,1374.3 L918.6,1373.6 L919.9,1372.9 L921.1,1372.1 L922.2,1371.2 L923.2,1370.2 L924.2,1369.2 L925.1,1368.1 L925.9,1366.9 L926.8,1365.8 L927.5,1364.5 L928.3,1363.3 L929.1,1362.1 L929.8,1360.8 L930.5,1359.5 L931.2,1358.2 L931.9,1356.9 L932.6,1355.6 L933.3,1354.3 L933.9,1352.9 L934.6,1351.6 L935.2,1350.2 L935.8,1348.8 L936.4,1347.4 L937.0,1346.0 L937.6,1344.6 L938.2,1343.2 L938.7,1341.7 L939.3,1340.3 L939.8,1338.8 L940.4,1337.4 L940.9,1335.9 L941.4,1334.4 L941.9,1332.9 L942.4,1331.4 L942.9,1329.9 L943.4,1328.4 L943.8,1326.8 L944.3,1325.3 L944.7,1323.7 L945.2,1322.2 L945.6,1320.6 L946.0,1319.0 L946.5,1317.5 L946.9,1315.9 L947.3,1314.3 L947.7,1312.7 L948.1,1311.1 L948.5,1309.5 L948.9,1307.9 L949.2,1306.2 L949.6,1304.6 L950.0,1303.0 L950.4,1301.4 L950.7,1299.7 L951.1,1298.1 L951.4,1296.4 L951.8,1294.8 L952.1,1293.1 L952.5,1291.5 L952.8,1289.8 L953.1,1288.1 L953.5,1286.5 L953.8,1284.8 L954.2,1283.2 L954.5,1281.5 L954.8,1279.8 L955.1,1278.1 L955.5,1276.5 L955.8,1274.8 L956.1,1273.1 L956.4,1271.4 L956.8,1269.8 L957.1,1268.1 L957.4,1266.4 L957.7,1264.7 L958.1,1263.1 L958.4,1261.4 L958.7,1259.7 L959.0,1258.0 L959.4,1256.4 L959.7,1254.7 L960.0,1253.0 L960.3,1251.3 L960.6,1249.6 L961.0,1248.0 L961.3,1246.3 L961.6,1244.6 L961.9,1242.9 L962.2,1241.2 L962.6,1239.6 L962.9,1237.9 L963.2,1236.2 L963.5,1234.5 L963.8,1232.8 L964.1,1231.1 L964.4,1229.4 L964.8,1227.8 L965.1,1226.1 L965.4,1224.4 L965.7,1222.7 L966.0,1221.0 L966.3,1219.3 L966.6,1217.6 L966.9,1215.9 L967.2,1214.2 L967.5,1212.5 L967.8,1210.8 L968.2,1209.2 L968.5,1207.5 L968.8,1205.8 L969.1,1204.1 L969.4,1202.4 L969.7,1200.7 L970.0,1199.0 L970.3,1197.3 L970.6,1195.6 L970.9,1193.9 L971.2,1192.2 L971.5,1190.5 L971.8,1188.8 L972.1,1187.1 L972.4,1185.4 L972.7,1183.7 L973.0,1182.0 L973.3,1180.3 L973.6,1178.6 L973.9,1176.9 L974.2,1175.2 L974.5,1173.5 L974.8,1171.8 L975.1,1170.1 L975.4,1168.4 L975.7,1166.7 L975.9,1164.9 L976.2,1163.2 L976.5,1161.5 L976.8,1159.8 L977.1,1158.1 L977.4,1156.4 L977.7,1154.7 L978.0,1153.0 L978.3,1151.3 L978.6,1149.6 L978.9,1147.9 L979.1,1146.1 L979.4,1144.4 L979.7,1142.7 L980.0,1141.0 L980.3,1139.3 L980.6,1137.6 L980.9,1135.9 L981.1,1134.1 L981.4,1132.4 L981.7,1130.7 L982.0,1129.0 L982.3,1127.3 L982.5,1125.5 L982.8,1123.8 L983.1,1122.1 L983.4,1120.4 L983.7,1118.7 L983.9,1116.9 L984.2,1115.2 L984.5,1113.5 L984.8,1111.8 L985.0,1110.0 L985.3,1108.3 L985.6,1106.6 L985.9,1104.9 L986.1,1103.1 L986.4,1101.4 L986.7,1099.7 L987.0,1098.0 L987.2,1096.2 L987.5,1094.5 L987.8,1092.8 L988.0,1091.0 L988.3,1089.3 L988.6,1087.6 L988.9,1085.9 L989.1,1084.1 L989.4,1082.4 L989.7,1080.7 L989.9,1078.9 L990.2,1077.2 L990.5,1075.5 L990.7,1073.7 L991.0,1072.0 L991.3,1070.3 L991.5,1068.5 L991.8,1066.8 L992.0,1065.0 L992.3,1063.3 L992.6,1061.6 L992.8,1059.8 L993.1,1058.1 L993.4,1056.4 L993.6,1054.6 L993.9,1052.9 L994.2,1051.2 L994.4,1049.4 L994.7,1047.7 L994.9,1045.9 L995.2,1044.2 L995.5,1042.5 L995.7,1040.7 L996.0,1039.0 L996.2,1037.2 L996.5,1035.5 L996.8,1033.8 L997.0,1032.0 L997.3,1030.3 L997.5,1028.5 L997.8,1026.8 L998.1,1025.1 L998.3,1023.3 L998.6,1021.6 L998.8,1019.8 L999.1,1018.1 L999.4,1016.4 L999.6,1014.6 L999.9,1012.9 L1000.2,1011.2 L1000.4,1009.4 L1000.7,1007.7 L1000.9,1005.9 L1001.2,1004.2 L1001.5,1002.5 L1001.7,1000.7 L1002.0,999.0 L1002.2,997.2 L1002.5,995.5 L1002.8,993.8 L1003.0,992.0 L1003.3,990.3 L1003.6,988.6 L1003.8,986.8 L1004.1,985.1 L1004.3,983.3 L1004.6,981.6 L1004.9,979.9 L1005.1,978.1 L1005.4,976.4 L1005.7,974.7 L1005.9,972.9 L1006.2,971.2 L1006.5,969.5 L1006.7,967.7 L1007.0,966.0 L1007.3,964.3 L1007.5,962.5 L1007.8,960.8 L1008.1,959.1 L1008.3,957.3 L1008.6,955.6 L1008.9,953.9 L1009.1,952.1 L1009.4,950.4 L1009.7,948.7 L1009.9,946.9 L1010.2,945.2 L1010.5,943.5 L1010.8,941.8 L1011.0,940.0 L1011.3,938.3 L1011.6,936.6 L1011.9,934.9 L1012.1,933.1 L1012.4,931.4 L1012.7,929.7 L1013.0,928.0 L1013.2,926.2 L1013.5,924.5 L1013.8,922.8 L1014.1,921.1 L1014.4,919.4 L1014.6,917.6 L1014.9,915.9 L1015.2,914.2 L1015.5,912.5 L1015.8,910.8 L1016.1,909.1 L1016.3,907.3 L1016.6,905.6 L1016.9,903.9 L1017.2,902.2 L1017.5,900.5 L1017.8,898.8 L1018.1,897.1 L1018.4,895.4 L1018.7,893.7 L1018.9,891.9 L1019.2,890.2 L1019.5,888.5 L1019.8,886.8 L1020.1,885.1 L1020.4,883.4 L1020.7,881.7 L1021.0,880.0 L1021.3,878.3 L1021.6,876.6 L1021.9,874.9 L1022.2,873.2 L1022.5,871.5 L1022.8,869.8 L1023.1,868.1 L1023.5,866.5 L1023.8,864.8 L1024.1,863.1 L1024.4,861.4 L1024.7,859.7 L1025.0,858.0 L1025.3,856.3 L1025.6,854.6 L1026.0,853.0 L1026.3,851.3 L1026.6,849.6 L1026.9,847.9 L1027.2,846.2 L1027.6,844.6 L1027.9,842.9 L1028.2,841.2 L1028.5,839.5 L1028.9,837.9 L1029.2,836.2 L1029.5,834.5 L1029.8,832.8 L1030.2,831.2 L1030.5,829.5 L1030.8,827.8 L1031.2,826.2 L1031.5,824.5 L1031.9,822.9 L1032.2,821.2 L1032.5,819.5 L1032.9,817.9 L1033.2,816.2 L1033.6,814.6 L1033.9,812.9 L1034.3,811.3 L1034.6,809.6 L1035.0,808.0 L1035.3,806.3 L1035.7,804.7 L1036.0,803.0 L1036.4,801.4 L1036.7,799.7 L1037.1,798.1 L1037.5,796.5 L1037.8,794.8 L1038.2,793.2 L1038.6,791.6 L1038.9,789.9 L1039.3,788.3 L1039.7,786.7 L1040.1,785.1 L1040.4,783.4 L1040.8,781.8 L1041.2,780.2 L1041.6,778.6 L1041.9,776.9 L1042.3,775.3 L1042.7,773.7 L1043.1,772.1 L1043.5,770.5 L1043.9,768.9 L1044.3,767.3 L1044.7,765.7 L1045.1,764.1 L1045.5,762.5 L1045.9,760.9 L1046.3,759.3 L1046.7,757.7 L1047.1,756.1 L1047.5,754.5 L1047.9,752.9 L1048.3,751.3 L1048.7,749.7 L1049.1,748.1 L1049.5,746.5 L1049.9,744.9 L1050.4,743.4 L1050.8,741.8 L1051.2,740.2 L1051.6,738.6 L1052.1,737.1 L1052.5,735.5 L1052.9,733.9 L1053.4,732.4 L1053.8,730.8 L1054.2,729.2 L1054.7,727.7 L1055.1,726.1 L1055.5,724.5 L1056.0,723.0 L1056.4,721.4 L1056.9,719.9 L1057.3,718.3 L1057.8,716.8 L1058.3,715.3 L1058.7,713.7 L1059.2,712.2 L1059.6,710.6 L1060.1,709.1 L1060.6,707.6 L1061.0,706.0 L1061.5,704.5 L1062.0,703.0 L1062.4,701.4 L1062.9,699.9 L1063.4,698.4 L1063.9,696.9 L1064.3,695.3 L1064.8,693.8 L1065.3,692.3 L1065.8,690.8 L1066.3,689.3 L1066.8,687.8 L1067.3,686.3 L1067.8,684.8 L1068.3,683.3 L1068.8,681.8 L1069.3,680.3 L1069.8,678.8 L1070.3,677.3 L1070.8,675.8 L1071.3,674.3 L1071.8,672.8 L1072.3,671.3 L1072.8,669.8 L1073.3,668.3 L1073.8,666.8 L1074.4,665.4 L1074.9,663.9 L1075.4,662.4 L1075.9,660.9 L1076.5,659.5 L1077.0,658.0 L1077.5,656.5 L1078.1,655.1 L1078.6,653.6 L1079.1,652.1 L1079.7,650.7 L1080.2,649.2 L1080.7,647.7 L1081.3,646.3 L1081.8,644.8 L1082.4,643.4 L1082.9,641.9 L1083.5,640.5 L1084.0,639.0 L1084.6,637.6 L1085.1,636.1 L1085.7,634.7 L1086.3,633.3 L1086.8,631.8 L1087.4,630.4 L1087.9,628.9 L1088.5,627.5 L1089.1,626.1 L1089.6,624.6 L1090.2,623.2 L1090.8,621.8 L1091.4,620.4 L1091.9,618.9 L1092.5,617.5 L1093.1,616.1 L1093.7,614.7 L1094.3,613.3 L1094.9,611.9 L1095.4,610.4 L1096.0,609.0 L1096.6,607.6 L1097.2,606.2 L1097.8,604.8 L1098.4,603.4 L1099.0,602.0 L1099.6,600.6 L1100.2,599.2 L1100.8,597.8 L1101.4,596.4 L1102.0,595.0 L1102.6,593.6 L1103.3,592.3 L1103.9,590.9 L1104.5,589.5 L1105.1,588.1 L1105.7,586.7 L1106.3,585.3 L1107.0,584.0 L1107.6,582.6 L1108.2,581.2 L1108.8,579.8 L1109.5,578.5 L1110.1,577.1 L1110.7,575.7 L1111.4,574.4 L1112.0,573.0 L1112.6,571.6 L1113.3,570.3 L1113.9,568.9 L1114.5,567.5 L1115.2,566.2 L1115.8,564.8 L1116.5,563.5 L1117.1,562.1 L1117.8,560.8 L1118.4,559.4 L1119.1,558.1 L1119.7,556.7 L1120.4,555.4 L1121.0,554.0 L1121.7,552.7 L1122.4,551.4 L1123.0,550.0 L1123.7,548.7 L1124.4,547.4 L1125.0,546.0 L1125.7,544.7 L1126.4,543.4 L1127.0,542.0 L1127.7,540.7 L1128.4,539.4 L1129.1,538.1 L1129.8,536.8 L1130.4,535.4 L1131.1,534.1 L1131.8,532.8 L1132.5,531.5 L1133.2,530.2 L1133.9,528.9 L1134.6,527.6 L1135.2,526.2 L1135.9,524.9 L1136.6,523.6 L1137.3,522.3 L1138.0,521.0 L1138.7,519.7 L1139.4,518.4 L1140.1,517.1 L1140.8,515.8 L1141.5,514.5 L1142.2,513.2 L1143.0,512.0 L1143.7,510.7 L1144.4,509.4 L1145.1,508.1 L1145.8,506.8 L1146.5,505.5 L1147.2,504.2 L1148.0,503.0 L1148.7,501.7 L1149.4,500.4 L1150.1,499.1 L1150.9,497.9 L1151.6,496.6 L1152.3,495.3 L1153.0,494.0 L1153.8,492.8 L1154.5,491.5 L1155.2,490.2 L1156.0,489.0 L1156.7,487.7 L1157.5,486.5 L1158.2,485.2 L1158.9,483.9 L1159.7,482.7 L1160.4,481.4 L1161.2,480.2 L1161.9,478.9 L1162.7,477.7 L1163.4,476.4 L1164.2,475.2 L1164.9,473.9 L1165.7,472.7 L1166.4,471.4 L1167.2,470.2 L1168.0,469.0 L1168.7,467.7 L1169.5,466.5 L1170.2,465.2 L1171.0,464.0 L1171.8,462.8 L1172.5,461.5 L1173.3,460.3 L1174.1,459.1 L1174.9,457.9 L1175.6,456.6 L1176.4,455.4 L1177.2,454.2 L1178.0,453.0 L1178.7,451.7 L1179.5,450.5 L1180.3,449.3 L1181.1,448.1 L1181.9,446.9 L1182.7,445.7 L1183.5,444.5 L1184.2,443.2 L1185.0,442.0 L1185.8,440.8 L1186.6,439.6 L1187.4,438.4 L1188.2,437.2 L1189.0,436.0 L1189.8,434.8 L1190.6,433.6 L1191.4,432.4 L1192.2,431.2 L1193.0,430.0 L1193.8,428.8 L1194.6,427.6 L1195.4,426.4 L1196.2,425.2 L1197.1,424.1 L1197.9,422.9 L1198.7,421.7 L1199.5,420.5 L1200.3,419.3 L1201.1,418.1 L1202.0,417.0 L1202.8,415.8 L1203.6,414.6 L1204.4,413.4 L1205.2,412.2 L1206.1,411.1 L1206.9,409.9 L1207.7,408.7 L1208.6,407.6 L1209.4,406.4 L1210.2,405.2 L1211.1,404.1 L1211.9,402.9 L1212.7,401.7 L1213.6,400.6 L1214.4,399.4 L1215.3,398.3 L1216.1,397.1 L1216.9,395.9 L1217.8,394.8 L1218.6,393.6 L1219.5,392.5 L1220.3,391.3 L1221.2,390.2 L1222.0,389.0 L1222.9,387.9 L1223.8,386.8 L1224.6,385.6 L1225.5,384.5 L1226.3,383.3 L1227.2,382.2 L1228.1,381.1 L1228.9,379.9 L1229.8,378.8 L1230.7,377.7 L1231.6,376.6 L1232.4,375.4 L1233.3,374.3 L1234.2,373.2 L1235.1,372.1 L1236.0,371.0 L1236.8,369.8 L1237.7,368.7 L1238.6,367.6 L1239.5,366.5 L1240.4,365.4 L1241.3,364.3 L1242.2,363.2 L1243.1,362.1 L1244.0,361.0 L1244.9,359.9 L1245.8,358.8 L1246.7,357.7 L1247.6,356.6 L1248.5,355.5 L1249.4,354.4 L1250.3,353.3 L1251.3,352.3 L1252.2,351.2 L1253.1,350.1 L1254.0,349.0 L1254.9,347.9 L1255.9,346.9 L1256.8,345.8 L1257.7,344.7 L1258.7,343.7 L1259.6,342.6 L1260.5,341.5 L1261.5,340.5 L1262.4,339.4 L1263.3,338.3 L1264.3,337.3 L1265.2,336.2 L1266.2,335.2 L1267.1,334.1 L1268.1,333.1 L1269.1,332.1 L1270.0,331.0 L1271.0,330.0 L1271.9,328.9 L1272.9,327.9 L1273.9,326.9 L1274.8,325.8 L1275.8,324.8 L1276.8,323.8 L1277.8,322.8 L1278.7,321.7 L1279.7,320.7 L1280.7,319.7 L1281.7,318.7 L1282.7,317.7 L1283.7,316.7 L1284.7,315.7 L1285.6,314.6 L1286.6,313.6 L1287.6,312.6 L1288.6,311.6 L1289.7,310.7 L1290.7,309.7 L1291.7,308.7 L1292.7,307.7 L1293.7,306.7 L1294.7,305.7 L1295.7,304.7 L1296.8,303.8 L1297.8,302.8 L1298.8,301.8 L1299.8,300.8 L1300.9,299.9 L1301.9,298.9 L1302.9,297.9 L1304.0,297.0 L1305.0,296.0 L1306.1,295.1 L1307.1,294.1 L1308.2,293.2 L1309.2,292.2 L1310.3,291.3 L1311.3,290.3 L1312.4,289.4 L1313.5,288.5 L1314.5,287.5 L1315.6,286.6 L1316.7,285.7 L1317.7,284.7 L1318.8,283.8 L1319.9,282.9 L1321.0,282.0 L1322.1,281.1 L1323.2,280.2 L1324.3,279.3 L1325.3,278.3 L1326.4,277.4 L1327.5,276.5 L1328.6,275.6 L1329.8,274.8 L1330.9,273.9 L1332.0,273.0 L1333.1,272.1 L1334.2,271.2 L1335.3,270.3 L1336.5,269.5 L1337.6,268.6 L1338.7,267.7 L1339.8,266.8 L1341.0,266.0 L1342.1,265.1 L1343.3,264.3 L1344.4,263.4 L1345.5,262.5 L1346.7,261.7 L1347.8,260.8 L1349.0,260.0 L1350.2,259.2 L1351.3,258.3 L1352.5,257.5 L1353.7,256.7 L1354.8,255.8 L1356.0,255.0 L1357.2,254.2 L1358.4,253.4 L1359.5,252.5 L1360.7,251.7 L1361.9,250.9 L1363.1,250.1 L1364.3,249.3 L1365.5,248.5 L1366.7,247.7 L1367.9,246.9 L1369.1,246.1 L1370.3,245.3 L1371.5,244.5 L1372.7,243.7 L1373.9,242.9 L1375.1,242.1 L1376.4,241.4 L1377.6,240.6 L1378.8,239.8 L1380.0,239.0 L1381.3,238.3 L1382.5,237.5 L1383.7,236.7 L1385.0,236.0 L1386.2,235.2 L1387.5,234.5 L1388.7,233.7 L1390.0,233.0 L1391.2,232.2 L1392.5,231.5 L1393.7,230.7 L1395.0,230.0 L1396.3,229.3 L1397.5,228.5 L1398.8,227.8 L1400.1,227.1 L1401.3,226.3 L1402.6,225.6 L1403.9,224.9 L1405.2,224.2 L1406.5,223.5 L1407.7,222.7 L1409.0,222.0 L1410.3,221.3 L1411.6,220.6 L1412.9,219.9 L1414.2,219.2 L1415.5,218.5 L1416.8,217.8 L1418.1,217.1 L1419.4,216.4 L1420.7,215.7 L1422.1,215.1 L1423.4,214.4 L1424.7,213.7 L1426.0,213.0 L1427.3,212.3 L1428.7,211.7 L1430.0,211.0 L1431.3,210.3 L1432.7,209.7 L1434.0,209.0 L1435.3,208.3 L1436.7,207.7 L1438.0,207.0 L1439.4,206.4 L1440.7,205.7 L1442.1,205.1 L1443.4,204.4 L1444.8,203.8 L1446.1,203.1 L1447.5,202.5 L1448.8,201.8 L1450.2,201.2 L1451.6,200.6 L1452.9,199.9 L1454.3,199.3 L1455.7,198.7 L1457.1,198.1 L1458.4,197.4 L1459.8,196.8 L1461.2,196.2 L1462.6,195.6 L1464.0,195.0 L1465.4,194.4 L1466.8,193.8 L1468.2,193.2 L1469.5,192.5 L1470.9,191.9 L1472.3,191.3 L1473.7,190.7 L1475.2,190.2 L1476.6,189.6 L1478.0,189.0 L1479.4,188.4 L1480.8,187.8 L1482.2,187.2 L1483.6,186.6 L1485.0,186.0 L1486.5,185.5 L1487.9,184.9 L1489.3,184.3 L1490.7,183.7 L1492.2,183.2 L1493.6,182.6 L1495.0,182.0 L1496.5,181.5 L1497.9,180.9 L1499.4,180.4 L1500.8,179.8 L1502.2,179.2 L1503.7,178.7 L1505.1,178.1 L1506.6,177.6 L1508.0,177.0 L1509.5,176.5 L1511.0,176.0 L1512.4,175.4 L1513.9,174.9 L1515.3,174.3 L1516.8,173.8 L1518.3,173.3 L1519.7,172.7 L1521.2,172.2 L1522.7,171.7 L1524.2,171.2 L1525.6,170.6 L1527.1,170.1 L1528.6,169.6 L1530.1,169.1 L1531.6,168.6 L1533.0,168.0 L1534.5,167.5 L1536.0,167.0 L1537.5,166.5 L1539.0,166.0 L1540.5,165.5 L1542.0,165.0 L1543.5,164.5 L1545.0,164.0 L1546.5,163.5 L1548.0,163.0 L1549.5,162.5 L1551.0,162.0 L1552.5,161.5 L1554.0,161.0 L1555.6,160.6 L1557.1,160.1 L1558.6,159.6 L1560.1,159.1 L1561.6,158.6 L1563.2,158.2 L1564.7,157.7 L1566.2,157.2 L1567.7,156.7 L1569.3,156.3 L1570.8,155.8 L1572.3,155.3 L1573.9,154.9 L1575.4,154.4 L1576.9,153.9 L1578.5,153.5 L1580.0,153.0 L1581.6,152.6 L1583.1,152.1 L1584.7,151.7 L1586.2,151.2 L1587.8,150.8 L1589.3,150.3 L1590.9,149.9 L1592.4,149.4 L1594.0,149.0 L1595.5,148.5 L1597.1,148.1 L1598.6,147.6 L1600.2,147.2 L1601.8,146.8 L1603.3,146.3 L1604.9,145.9 L1606.5,145.5 L1608.0,145.0 L1609.6,144.6 L1611.2,144.2 L1612.8,143.8 L1614.3,143.3 L1615.9,142.9 L1617.5,142.5 L1619.1,142.1 L1620.7,141.7 L1622.2,141.2 L1623.8,140.8 L1625.4,140.4 L1627.0,140.0 L1628.6,139.6 L1630.2,139.2 L1631.8,138.8 L1633.4,138.4 L1635.0,138.0 L1636.6,137.6 L1638.2,137.2 L1639.8,136.8 L1641.4,136.4 L1643.0,136.0 L1644.6,135.6 L1646.2,135.2 L1647.8,134.8 L1649.4,134.4 L1651.0,134.0 L1652.6,133.6 L1654.3,133.3 L1655.9,132.9 L1657.5,132.5 L1659.1,132.1 L1660.7,131.7 L1662.3,131.3 L1664.0,131.0 L1665.6,130.6 L1667.2,130.2 L1668.9,129.9 L1670.5,129.5 L1672.1,129.1 L1673.7,128.7 L1675.4,128.4 L1677.0,128.0 L1678.6,127.6 L1680.3,127.3 L1681.9,126.9 L1683.6,126.6 L1685.2,126.2 L1686.8,125.8 L1688.5,125.5 L1690.1,125.1 L1691.8,124.8 L1693.4,124.4 L1695.1,124.1 L1696.7,123.7 L1698.4,123.4 L1700.0,123.0 L1701.7,122.7 L1703.4,122.4 L1705.0,122.0 L1706.7,121.7 L1708.3,121.3 L1710.0,121.0 L1711.7,120.7 L1713.3,120.3 L1715.0,120.0 L1716.7,119.7 L1718.3,119.3 L1720.0,119.0 L1721.7,118.7 L1723.4,118.4 L1725.0,118.0 L1726.7,117.7 L1728.4,117.4 L1730.1,117.1 L1731.7,116.7 L1733.4,116.4 L1735.1,116.1 L1736.8,115.8 L1738.5,115.5 L1740.2,115.2 L1741.8,114.8 L1743.5,114.5 L1745.2,114.2 L1746.9,113.9 L1748.6,113.6 L1750.3,113.3 L1752.0,113.0 L1753.7,112.7 L1755.4,112.4 L1757.1,112.1 L1758.8,111.8 L1760.5,111.5 L1762.2,111.2 L1763.9,110.9 L1765.6,110.6 L1767.3,110.3 L1769.0,110.0 L1770.7,109.7 L1772.4,109.4 L1774.2,109.2 L1775.9,108.9 L1777.6,108.6 L1779.3,108.3 L1781.0,108.0 L1782.7,107.7 L1784.5,107.5 L1786.2,107.2 L1787.9,106.9 L1789.6,106.6 L1791.3,106.3 L1793.1,106.1 L1794.8,105.8 L1796.5,105.5 L1798.2,105.2 L1800.0,105.0 L1801.7,104.7 L1803.4,104.4 L1805.2,104.2 L1806.9,103.9 L1808.6,103.6 L1810.4,103.4 L1812.1,103.1 L1813.9,102.9 L1815.6,102.6 L1817.3,102.3 L1819.1,102.1 L1820.8,101.8 L1822.6,101.6 L1824.3,101.3 L1826.1,101.1 L1827.8,100.8 L1829.6,100.6 L1831.3,100.3 L1833.1,100.1 L1834.8,99.8 L1836.6,99.6 L1838.3,99.3 L1840.1,99.1 L1841.8,98.8 L1843.6,98.6 L1845.4,98.4 L1847.1,98.1 L1848.9,97.9 L1850.6,97.6 L1852.4,97.4 L1854.2,97.2 L1855.9,96.9 L1857.7,96.7 L1859.5,96.5 L1861.2,96.2 L1863.0,96.0 L1864.8,95.8 L1866.5,95.5 L1868.3,95.3 L1870.1,95.1 L1871.9,94.9 L1873.6,94.6 L1875.4,94.4 L1877.2,94.2 L1879.0,94.0 L1880.8,93.8 L1882.5,93.5 L1884.3,93.3 L1886.1,93.1 L1887.9,92.9 L1889.7,92.7 L1891.5,92.5 L1893.2,92.2 L1895.0,92.0 L1896.8,91.8 L1898.6,91.6 L1900.4,91.4 L1902.2,91.2 L1904.0,91.0 L1905.8,90.8 L1907.6,90.6 L1909.4,90.4 L1911.2,90.2 L1913.0,90.0 L1914.8,89.8 L1916.6,89.6 L1918.4,89.4 L1920.2,89.2 L1922.0,89.0 L1923.8,88.8 L1925.6,88.6 L1927.4,88.4 L1929.2,88.2 L1931.0,88.0 L1932.8,87.8 L1934.6,87.6 L1936.4,87.4 L1938.2,87.2 L1940.0,87.0 L1941.9,86.9 L1943.7,86.7 L1945.5,86.5 L1947.3,86.3 L1949.1,86.1 L1950.9,85.9 L1952.8,85.8 L1954.6,85.6 L1956.4,85.4 L1958.2,85.2 L1960.0,85.0 L1961.9,84.9 L1963.7,84.7 L1965.5,84.5 L1967.3,84.3 L1969.2,84.2 L1971.0,84.0 L1972.8,83.8 L1974.6,83.6 L1976.5,83.5 L1978.3,83.3 L1980.1,83.1 L1982.0,83.0 L1983.8,82.8 L1985.6,82.6 L1987.5,82.5 L1989.3,82.3 L1991.1,82.1 L1993.0,82.0 L1994.8,81.8 L1996.6,81.6 L1998.5,81.5 L2000.3,81.3 L2002.2,81.2 L2004.0,81.0 L2005.8,80.8 L2007.7,80.7 L2009.5,80.5 L2011.4,80.4 L2013.2,80.2 L2015.1,80.1 L2016.9,79.9 L2018.8,79.8 L2020.6,79.6 L2022.5,79.5 L2024.3,79.3 L2026.2,79.2 L2028.0,79.0 L2029.9,78.9 L2031.7,78.7 L2033.6,78.6 L2035.4,78.4 L2037.3,78.3 L2039.1,78.1 L2041.0,78.0 L2042.8,77.8 L2044.7,77.7 L2046.6,77.6 L2048.4,77.4 L2050.3,77.3 L2052.1,77.1 L2054.0,77.0 L2055.9,76.9 L2057.7,76.7 L2059.6,76.6 L2061.5,76.5 L2063.3,76.3 L2065.2,76.2 L2067.0,76.0 L2068.9,75.9 L2070.8,75.8 L2072.6,75.6 L2074.5,75.5 L2076.4,75.4 L2078.3,75.3 L2080.1,75.1 L2082.0,75.0 L2083.9,74.9 L2085.7,74.7 L2087.6,74.6 L2089.5,74.5 L2091.4,74.4 L2093.2,74.2 L2095.1,74.1 L2097.0,74.0 L2098.9,73.9 L2100.7,73.7 L2102.6,73.6 L2104.5,73.5 L2106.4,73.4 L2108.3,73.3 L2110.1,73.1 L2112.0,73.0 L2113.9,72.9 L2115.8,72.8 L2117.7,72.7 L2119.5,72.5 L2121.4,72.4 L2123.3,72.3 L2125.2,72.2 L2127.1,72.1 L2129.0,72.0 L2130.9,71.9 L2132.7,71.7 L2134.6,71.6 L2136.5,71.5 L2138.4,71.4 L2140.3,71.3 L2142.2,71.2 L2144.1,71.1 L2146.0,71.0 L2147.9,70.9 L2149.8,70.8 L2151.6,70.6 L2153.5,70.5 L2155.4,70.4 L2157.3,70.3 L2159.2,70.2 L2161.1,70.1 L2163.0,70.0 L2164.9,69.9 L2166.8,69.8 L2168.7,69.7 L2170.6,69.6 L2172.5,69.5 L2174.4,69.4 L2176.3,69.3 L2178.2,69.2 L2180.1,69.1 L2182.0,69.0 L2183.9,68.9 L2185.8,68.8 L2187.7,68.7 L2189.6,68.6 L2191.5,68.5 L2193.4,68.4 L2195.3,68.3 L2197.2,68.2 L2199.1,68.1 L2201.0,68.0 L2202.9,67.9 L2204.8,67.8 L2206.7,67.7 L2208.6,67.6 L2210.5,67.5 L2212.4,67.4 L2214.4,67.4 L2216.3,67.3 L2218.2,67.2 L2220.1,67.1 L2222.0,67.0 L2223.9,66.9 L2225.8,66.8 L2227.7,66.7 L2229.6,66.6 L2231.5,66.5 L2233.4,66.4 L2235.4,66.4 L2237.3,66.3 L2239.2,66.2 L2241.1,66.1 L2243.0,66.0 L2244.9,65.9 L2246.8,65.8 L2248.7,65.7 L2250.7,65.7 L2252.6,65.6 L2254.5,65.5 L2256.4,65.4 L2258.3,65.3 L2260.2,65.2 L2262.2,65.2 L2264.1,65.1 L2266.0,65.0 L2267.9,64.9 L2269.8,64.8 L2271.7,64.7 L2273.7,64.7 L2275.6,64.6 L2277.5,64.5 L2279.4,64.4 L2281.3,64.3 L2283.3,64.3 L2285.2,64.2 L2287.1,64.1 L2289.0,64.0 L2290.9,63.9 L2292.9,63.9 L2294.8,63.8 L2296.7,63.7 L2298.6,63.6 L2300.5,63.5 L2302.5,63.5 L2304.4,63.4 L2306.3,63.3 L2308.2,63.2 L2310.2,63.2 L2312.1,63.1 L2314.0,63.0 L2315.9,62.9 L2317.8,62.8 L2319.8,62.8 L2321.7,62.7 L2323.6,62.6 L2325.5,62.5 L2327.5,62.5 L2329.4,62.4 L2331.3,62.3 L2333.2,62.2 L2335.2,62.2 L2337.1,62.1 L2339.0,62.0 L2340.9,61.9 L2342.9,61.9 L2344.8,61.8 L2346.7,61.7 L2348.6,61.6 L2350.6,61.6 L2352.5,61.5" fill="none" stroke="#ff0000" stroke-width="8.5" stroke-linejoin="round"/>
<path d="M363.1,1382.1 L365.1,1382.1 L367.1,1382.1 L369.1,1382.1 L371.0,1382.0 L373.0,1382.0 L375.0,1382.0 L377.0,1382.0 L379.0,1382.0 L381.0,1382.0 L383.0,1382.0 L385.0,1382.0 L387.0,1382.0 L389.0,1382.0 L391.0,1382.0 L393.0,1382.0 L395.0,1382.0 L397.0,1382.0 L399.0,1382.0 L400.9,1381.9 L402.9,1381.9 L404.9,1381.9 L406.9,1381.9 L408.9,1381.9 L410.9,1381.9 L412.9,1381.9 L414.9,1381.9 L416.9,1381.9 L418.9,1381.9 L420.9,1381.9 L422.9,1381.9 L424.9,1381.9 L426.9,1381.9 L428.9,1381.9 L430.9,1381.9 L432.9,1381.9 L434.9,1381.9 L436.9,1381.9 L438.9,1381.9 L440.9,1381.9 L442.9,1381.9 L444.9,1381.9 L446.9,1381.9 L448.9,1381.9 L450.9,1381.9 L452.9,1381.9 L454.9,1381.9 L456.9,1381.9 L458.9,1381.9 L460.9,1381.9 L462.9,1381.9 L464.9,1381.9 L466.9,1381.9 L468.9,1381.9 L470.9,1381.9 L473.0,1382.0 L475.0,1382.0 L477.0,1382.0 L479.0,1382.0 L481.0,1382.0 L483.0,1382.0 L485.0,1382.0 L487.0,1382.0 L489.0,1382.0 L491.0,1382.0 L493.0,1382.0 L495.0,1382.0 L497.0,1382.0 L499.0,1382.0 L501.0,1382.0 L503.0,1382.0 L505.0,1382.0 L507.0,1382.0 L509.0,1382.0 L511.0,1382.0 L513.0,1382.0 L515.0,1382.0 L517.0,1382.0 L519.0,1382.0 L521.0,1382.0 L523.0,1382.0 L525.0,1382.0 L527.1,1382.1 L529.1,1382.1 L531.1,1382.1 L533.1,1382.1 L535.1,1382.1 L537.1,1382.1 L539.1,1382.1 L541.1,1382.1 L543.1,1382.1 L545.1,1382.1 L547.1,1382.1 L549.1,1382.1 L551.1,1382.1 L553.1,1382.1 L555.1,1382.1 L557.1,1382.1 L559.1,1382.1 L561.1,1382.1 L563.1,1382.1 L565.1,1382.1 L567.1,1382.1 L569.1,1382.1 L571.1,1382.1 L573.1,1382.1 L575.1,1382.1 L577.1,1382.1 L579.1,1382.1 L581.1,1382.1 L583.1,1382.1 L585.1,1382.1 L587.1,1382.1 L589.1,1382.1 L591.1,1382.1 L593.1,1382.1 L595.1,1382.1 L597.1,1382.1 L599.1,1382.1 L601.1,1382.1 L603.1,1382.1 L605.1,1382.1 L607.1,1382.1 L609.1,1382.1 L611.1,1382.1 L613.1,1382.1 L615.1,1382.1 L617.1,1382.1 L619.1,1382.1 L621.1,1382.1 L623.1,1382.1 L625.1,1382.1 L627.1,1382.1 L629.1,1382.1 L631.1,1382.1 L633.1,1382.1 L635.1,1382.1 L637.0,1382.0 L639.0,1382.0 L641.0,1382.0 L643.0,1382.0 L645.0,1382.0 L647.0,1382.0 L649.0,1382.0 L651.0,1382.0 L653.0,1382.0 L655.0,1382.0 L657.0,1382.0 L659.0,1382.0 L661.0,1382.0 L663.0,1382.0 L665.0,1382.0 L667.0,1382.0 L669.0,1382.0 L671.0,1382.0 L672.9,1381.9 L674.9,1381.9 L676.9,1381.9 L678.9,1381.9 L680.9,1381.9 L682.9,1381.9 L684.9,1381.9 L686.9,1381.9 L688.9,1381.9 L690.9,1381.9 L692.9,1381.9 L694.9,1381.9 L696.9,1381.9 L698.9,1381.9 L700.9,1381.9 L702.9,1381.9 L704.9,1381.9 L706.9,1381.9 L708.8,1381.8 L710.8,1381.8 L712.8,1381.8 L714.8,1381.8 L716.8,1381.8 L718.8,1381.8 L720.8,1381.8 L722.8,1381.8 L724.8,1381.8 L726.8,1381.8 L728.8,1381.8 L730.8,1381.8 L732.8,1381.8 L734.8,1381.8 L736.8,1381.8 L738.8,1381.8 L740.8,1381.8 L742.8,1381.8 L744.8,1381.8 L746.8,1381.8 L748.8,1381.8 L750.8,1381.8 L752.8,1381.8 L754.8,1381.8 L756.8,1381.8 L758.8,1381.8 L760.8,1381.8 L762.8,1381.8 L764.8,1381.8 L766.8,1381.8 L768.8,1381.8 L770.8,1381.8 L772.8,1381.8 L774.8,1381.8 L776.9,1381.9 L778.9,1381.9 L780.9,1381.9 L782.9,1381.9 L784.9,1381.9 L786.9,1381.9 L788.9,1381.9 L790.9,1381.9 L792.9,1381.9 L794.9,1381.9 L796.9,1381.9 L798.9,1381.9 L801.0,1382.0 L803.0,1382.0 L805.0,1382.0 L807.0,1382.0 L809.0,1382.0 L811.0,1382.0 L813.0,1382.0 L815.1,1382.1 L817.1,1382.1 L819.1,1382.1 L821.1,1382.1 L823.1,1382.1 L825.1,1382.1 L827.2,1382.2 L829.2,1382.2 L831.2,1382.2 L833.2,1382.2 L835.2,1382.2 L837.3,1382.3 L839.3,1382.3 L841.3,1382.3 L843.3,1382.3 L845.4,1382.4 L847.4,1382.4 L849.4,1382.4 L851.4,1382.4 L853.5,1382.5 L855.5,1382.5 L857.5,1382.5 L859.5,1382.5 L861.5,1382.5 L863.6,1382.6 L865.6,1382.6 L867.6,1382.6 L869.6,1382.6 L871.6,1382.6 L873.6,1382.6 L875.6,1382.6 L877.6,1382.6 L879.5,1382.5 L881.5,1382.5 L883.5,1382.5 L885.5,1382.5 L887.4,1382.4 L889.4,1382.4 L891.3,1382.3 L893.2,1382.2 L895.2,1382.2 L897.1,1382.1 L899.0,1382.0 L900.9,1381.9 L902.8,1381.8 L904.6,1381.6 L906.5,1381.5 L908.4,1381.4 L910.2,1381.2 L912.0,1381.0 L913.9,1380.9 L915.7,1380.7 L917.4,1380.4 L919.2,1380.2 L920.9,1379.9 L922.5,1379.5 L924.1,1379.1 L925.5,1378.5 L926.9,1377.9 L928.2,1377.2 L929.3,1376.3 L930.3,1375.3 L931.3,1374.3 L932.2,1373.2 L932.9,1371.9 L933.7,1370.7 L934.4,1369.4 L935.1,1368.1 L935.8,1366.8 L936.5,1365.5 L937.1,1364.1 L937.8,1362.8 L938.4,1361.4 L939.0,1360.0 L939.7,1358.7 L940.3,1357.3 L940.9,1355.9 L941.5,1354.5 L942.0,1353.0 L942.6,1351.6 L943.2,1350.2 L943.8,1348.8 L944.3,1347.3 L944.8,1345.8 L945.4,1344.4 L945.9,1342.9 L946.4,1341.4 L946.9,1339.9 L947.4,1338.4 L947.9,1336.9 L948.4,1335.4 L948.9,1333.9 L949.4,1332.4 L949.9,1330.9 L950.3,1329.3 L950.8,1327.8 L951.3,1326.3 L951.7,1324.7 L952.2,1323.2 L952.6,1321.6 L953.0,1320.0 L953.5,1318.5 L953.9,1316.9 L954.3,1315.3 L954.7,1313.7 L955.1,1312.1 L955.5,1310.5 L955.9,1308.9 L956.3,1307.3 L956.7,1305.7 L957.1,1304.1 L957.5,1302.5 L957.9,1300.9 L958.3,1299.3 L958.7,1297.7 L959.1,1296.1 L959.5,1294.5 L959.8,1292.8 L960.2,1291.2 L960.6,1289.6 L961.0,1288.0 L961.3,1286.3 L961.7,1284.7 L962.1,1283.1 L962.5,1281.5 L962.8,1279.8 L963.2,1278.2 L963.6,1276.6 L963.9,1274.9 L964.3,1273.3 L964.7,1271.7 L965.0,1270.0 L965.4,1268.4 L965.8,1266.8 L966.1,1265.1 L966.5,1263.5 L966.9,1261.9 L967.2,1260.2 L967.6,1258.6 L967.9,1256.9 L968.3,1255.3 L968.7,1253.7 L969.0,1252.0 L969.4,1250.4 L969.7,1248.7 L970.1,1247.1 L970.5,1245.5 L970.8,1243.8 L971.2,1242.2 L971.5,1240.5 L971.9,1238.9 L972.2,1237.2 L972.6,1235.6 L972.9,1233.9 L973.3,1232.3 L973.7,1230.7 L974.0,1229.0 L974.4,1227.4 L974.7,1225.7 L975.1,1224.1 L975.4,1222.4 L975.7,1220.7 L976.1,1219.1 L976.4,1217.4 L976.8,1215.8 L977.1,1214.1 L977.5,1212.5 L977.8,1210.8 L978.2,1209.2 L978.5,1207.5 L978.8,1205.8 L979.2,1204.2 L979.5,1202.5 L979.9,1200.9 L980.2,1199.2 L980.6,1197.6 L980.9,1195.9 L981.2,1194.2 L981.6,1192.6 L981.9,1190.9 L982.2,1189.2 L982.6,1187.6 L982.9,1185.9 L983.2,1184.2 L983.6,1182.6 L983.9,1180.9 L984.2,1179.2 L984.6,1177.6 L984.9,1175.9 L985.2,1174.2 L985.6,1172.6 L985.9,1170.9 L986.2,1169.2 L986.6,1167.6 L986.9,1165.9 L987.2,1164.2 L987.5,1162.5 L987.9,1160.9 L988.2,1159.2 L988.5,1157.5 L988.8,1155.8 L989.2,1154.2 L989.5,1152.5 L989.8,1150.8 L990.1,1149.1 L990.4,1147.4 L990.8,1145.8 L991.1,1144.1 L991.4,1142.4 L991.7,1140.7 L992.0,1139.0 L992.4,1137.4 L992.7,1135.7 L993.0,1134.0 L993.3,1132.3 L993.6,1130.6 L993.9,1128.9 L994.2,1127.2 L994.6,1125.6 L994.9,1123.9 L995.2,1122.2 L995.5,1120.5 L995.8,1118.8 L996.1,1117.1 L996.4,1115.4 L996.7,1113.7 L997.0,1112.0 L997.4,1110.4 L997.7,1108.7 L998.0,1107.0 L998.3,1105.3 L998.6,1103.6 L998.9,1101.9 L999.2,1100.2 L999.5,1098.5 L999.8,1096.8 L1000.1,1095.1 L1000.4,1093.4 L1000.7,1091.7 L1001.0,1090.0 L1001.3,1088.3 L1001.6,1086.6 L1001.9,1084.9 L1002.2,1083.2 L1002.5,1081.5 L1002.8,1079.8 L1003.1,1078.1 L1003.4,1076.4 L1003.7,1074.7 L1004.0,1073.0 L1004.3,1071.3 L1004.6,1069.6 L1004.9,1067.9 L1005.2,1066.2 L1005.5,1064.5 L1005.8,1062.8 L1006.1,1061.1 L1006.4,1059.4 L1006.6,1057.6 L1006.9,1055.9 L1007.2,1054.2 L1007.5,1052.5 L1007.8,1050.8 L1008.1,1049.1 L1008.4,1047.4 L1008.7,1045.7 L1009.0,1044.0 L1009.3,1042.3 L1009.6,1040.6 L1009.8,1038.8 L1010.1,1037.1 L1010.4,1035.4 L1010.7,1033.7 L1011.0,1032.0 L1011.3,1030.3 L1011.6,1028.6 L1011.9,1026.9 L1012.2,1025.2 L1012.4,1023.4 L1012.7,1021.7 L1013.0,1020.0 L1013.3,1018.3 L1013.6,1016.6 L1013.9,1014.9 L1014.2,1013.2 L1014.4,1011.4 L1014.7,1009.7 L1015.0,1008.0 L1015.3,1006.3 L1015.6,1004.6 L1015.9,1002.9 L1016.2,1001.2 L1016.4,999.4 L1016.7,997.7 L1017.0,996.0 L1017.3,994.3 L1017.6,992.6 L1017.9,990.9 L1018.2,989.2 L1018.4,987.4 L1018.7,985.7 L1019.0,984.0 L1019.3,982.3 L1019.6,980.6 L1019.9,978.9 L1020.1,977.1 L1020.4,975.4 L1020.7,973.7 L1021.0,972.0 L1021.3,970.3 L1021.6,968.6 L1021.8,966.8 L1022.1,965.1 L1022.4,963.4 L1022.7,961.7 L1023.0,960.0 L1023.3,958.3 L1023.5,956.5 L1023.8,954.8 L1024.1,953.1 L1024.4,951.4 L1024.7,949.7 L1025.0,948.0 L1025.3,946.3 L1025.5,944.5 L1025.8,942.8 L1026.1,941.1 L1026.4,939.4 L1026.7,937.7 L1027.0,936.0 L1027.3,934.3 L1027.5,932.5 L1027.8,930.8 L1028.1,929.1 L1028.4,927.4 L1028.7,925.7 L1029.0,924.0 L1029.3,922.3 L1029.5,920.5 L1029.8,918.8 L1030.1,917.1 L1030.4,915.4 L1030.7,913.7 L1031.0,912.0 L1031.3,910.3 L1031.6,908.6 L1031.8,906.8 L1032.1,905.1 L1032.4,903.4 L1032.7,901.7 L1033.0,900.0 L1033.3,898.3 L1033.6,896.6 L1033.9,894.9 L1034.2,893.2 L1034.5,891.5 L1034.8,889.8 L1035.0,888.0 L1035.3,886.3 L1035.6,884.6 L1035.9,882.9 L1036.2,881.2 L1036.5,879.5 L1036.8,877.8 L1037.1,876.1 L1037.4,874.4 L1037.7,872.7 L1038.0,871.0 L1038.3,869.3 L1038.6,867.6 L1038.9,865.9 L1039.2,864.2 L1039.5,862.5 L1039.8,860.8 L1040.1,859.1 L1040.4,857.4 L1040.7,855.7 L1041.0,854.0 L1041.3,852.3 L1041.6,850.6 L1041.9,848.9 L1042.2,847.2 L1042.5,845.5 L1042.8,843.8 L1043.1,842.1 L1043.4,840.4 L1043.7,838.7 L1044.0,837.0 L1044.3,835.3 L1044.6,833.6 L1045.0,832.0 L1045.3,830.3 L1045.6,828.6 L1045.9,826.9 L1046.2,825.2 L1046.5,823.5 L1046.8,821.8 L1047.1,820.1 L1047.4,818.4 L1047.8,816.8 L1048.1,815.1 L1048.4,813.4 L1048.7,811.7 L1049.0,810.0 L1049.3,808.3 L1049.7,806.7 L1050.0,805.0 L1050.3,803.3 L1050.6,801.6 L1050.9,799.9 L1051.3,798.3 L1051.6,796.6 L1051.9,794.9 L1052.2,793.2 L1052.6,791.6 L1052.9,789.9 L1053.2,788.2 L1053.5,786.5 L1053.9,784.9 L1054.2,783.2 L1054.5,781.5 L1054.8,779.8 L1055.2,778.2 L1055.5,776.5 L1055.8,774.8 L1056.2,773.2 L1056.5,771.5 L1056.8,769.8 L1057.2,768.2 L1057.5,766.5 L1057.9,764.9 L1058.2,763.2 L1058.5,761.5 L1058.9,759.9 L1059.2,758.2 L1059.6,756.6 L1059.9,754.9 L1060.3,753.3 L1060.6,751.6 L1060.9,749.9 L1061.3,748.3 L1061.6,746.6 L1062.0,745.0 L1062.3,743.3 L1062.7,741.7 L1063.0,740.0 L1063.4,738.4 L1063.8,736.8 L1064.1,735.1 L1064.5,733.5 L1064.8,731.8 L1065.2,730.2 L1065.5,728.5 L1065.9,726.9 L1066.3,725.3 L1066.6,723.6 L1067.0,722.0 L1067.4,720.4 L1067.7,718.7 L1068.1,717.1 L1068.5,715.5 L1068.8,713.8 L1069.2,712.2 L1069.6,710.6 L1069.9,708.9 L1070.3,707.3 L1070.7,705.7 L1071.1,704.1 L1071.4,702.4 L1071.8,700.8 L1072.2,699.2 L1072.6,697.6 L1073.0,696.0 L1073.3,694.3 L1073.7,692.7 L1074.1,691.1 L1074.5,689.5 L1074.9,687.9 L1075.3,686.3 L1075.7,684.7 L1076.1,683.1 L1076.5,681.5 L1076.9,679.9 L1077.3,678.3 L1077.6,676.6 L1078.0,675.0 L1078.4,673.4 L1078.8,671.8 L1079.2,670.2 L1079.7,668.7 L1080.1,667.1 L1080.5,665.5 L1080.9,663.9 L1081.3,662.3 L1081.7,660.7 L1082.1,659.1 L1082.5,657.5 L1082.9,655.9 L1083.3,654.3 L1083.8,652.8 L1084.2,651.2 L1084.6,649.6 L1085.0,648.0 L1085.4,646.4 L1085.9,644.9 L1086.3,643.3 L1086.7,641.7 L1087.2,640.2 L1087.6,638.6 L1088.0,637.0 L1088.4,635.4 L1088.9,633.9 L1089.3,632.3 L1089.8,630.8 L1090.2,629.2 L1090.6,627.6 L1091.1,626.1 L1091.5,624.5 L1092.0,623.0 L1092.4,621.4 L1092.9,619.9 L1093.3,618.3 L1093.8,616.8 L1094.2,615.2 L1094.7,613.7 L1095.1,612.1 L1095.6,610.6 L1096.0,609.0 L1096.5,607.5 L1097.0,606.0 L1097.4,604.4 L1097.9,602.9 L1098.4,601.4 L1098.8,599.8 L1099.3,598.3 L1099.8,596.8 L1100.2,595.2 L1100.7,593.7 L1101.2,592.2 L1101.7,590.7 L1102.2,589.2 L1102.6,587.6 L1103.1,586.1 L1103.6,584.6 L1104.1,583.1 L1104.6,581.6 L1105.1,580.1 L1105.6,578.6 L1106.1,577.1 L1106.6,575.6 L1107.1,574.1 L1107.6,572.6 L1108.1,571.1 L1108.6,569.6 L1109.1,568.1 L1109.6,566.6 L1110.1,565.1 L1110.6,563.6 L1111.1,562.1 L1111.6,560.6 L1112.1,559.1 L1112.7,557.7 L1113.2,556.2 L1113.7,554.7 L1114.2,553.2 L1114.8,551.8 L1115.3,550.3 L1115.8,548.8 L1116.3,547.3 L1116.9,545.9 L1117.4,544.4 L1117.9,542.9 L1118.5,541.5 L1119.0,540.0 L1119.6,538.6 L1120.1,537.1 L1120.7,535.7 L1121.2,534.2 L1121.8,532.8 L1122.3,531.3 L1122.9,529.9 L1123.4,528.4 L1124.0,527.0 L1124.5,525.5 L1125.1,524.1 L1125.7,522.7 L1126.2,521.2 L1126.8,519.8 L1127.4,518.4 L1127.9,516.9 L1128.5,515.5 L1129.1,514.1 L1129.7,512.7 L1130.3,511.3 L1130.8,509.8 L1131.4,508.4 L1132.0,507.0 L1132.6,505.6 L1133.2,504.2 L1133.8,502.8 L1134.4,501.4 L1135.0,500.0 L1135.6,498.6 L1136.2,497.2 L1136.8,495.8 L1137.4,494.4 L1138.0,493.0 L1138.6,491.6 L1139.2,490.2 L1139.8,488.8 L1140.5,487.5 L1141.1,486.1 L1141.7,484.7 L1142.3,483.3 L1143.0,482.0 L1143.6,480.6 L1144.2,479.2 L1144.8,477.8 L1145.5,476.5 L1146.1,475.1 L1146.8,473.8 L1147.4,472.4 L1148.0,471.0 L1148.7,469.7 L1149.3,468.3 L1150.0,467.0 L1150.6,465.6 L1151.3,464.3 L1152.0,463.0 L1152.6,461.6 L1153.3,460.3 L1153.9,458.9 L1154.6,457.6 L1155.3,456.3 L1156.0,455.0 L1156.6,453.6 L1157.3,452.3 L1158.0,451.0 L1158.7,449.7 L1159.4,448.4 L1160.0,447.0 L1160.7,445.7 L1161.4,444.4 L1162.1,443.1 L1162.8,441.8 L1163.5,440.5 L1164.2,439.2 L1164.9,437.9 L1165.6,436.6 L1166.3,435.3 L1167.1,434.1 L1167.8,432.8 L1168.5,431.5 L1169.2,430.2 L1169.9,428.9 L1170.6,427.6 L1171.4,426.4 L1172.1,425.1 L1172.8,423.8 L1173.6,422.6 L1174.3,421.3 L1175.1,420.1 L1175.8,418.8 L1176.5,417.5 L1177.3,416.3 L1178.0,415.0 L1178.8,413.8 L1179.5,412.5 L1180.3,411.3 L1181.1,410.1 L1181.8,408.8 L1182.6,407.6 L1183.4,406.4 L1184.1,405.1 L1184.9,403.9 L1185.7,402.7 L1186.5,401.5 L1187.2,400.2 L1188.0,399.0 L1188.8,397.8 L1189.6,396.6 L1190.4,395.4 L1191.2,394.2 L1192.0,393.0 L1192.8,391.8 L1193.6,390.6 L1194.4,389.4 L1195.2,388.2 L1196.0,387.0 L1196.8,385.8 L1197.7,384.7 L1198.5,383.5 L1199.3,382.3 L1200.1,381.1 L1200.9,379.9 L1201.8,378.8 L1202.6,377.6 L1203.4,376.4 L1204.3,375.3 L1205.1,374.1 L1206.0,373.0 L1206.8,371.8 L1207.6,370.6 L1208.5,369.5 L1209.3,368.3 L1210.2,367.2 L1211.1,366.1 L1211.9,364.9 L1212.8,363.8 L1213.6,362.6 L1214.5,361.5 L1215.4,360.4 L1216.2,359.2 L1217.1,358.1 L1218.0,357.0 L1218.9,355.9 L1219.7,354.7 L1220.6,353.6 L1221.5,352.5 L1222.4,351.4 L1223.3,350.3 L1224.2,349.2 L1225.1,348.1 L1226.0,347.0 L1226.9,345.9 L1227.8,344.8 L1228.7,343.7 L1229.6,342.6 L1230.5,341.5 L1231.4,340.4 L1232.3,339.3 L1233.2,338.2 L1234.1,337.1 L1235.0,336.0 L1236.0,335.0 L1236.9,333.9 L1237.8,332.8 L1238.7,331.7 L1239.7,330.7 L1240.6,329.6 L1241.5,328.5 L1242.4,327.4 L1243.4,326.4 L1244.3,325.3 L1245.3,324.3 L1246.2,323.2 L1247.1,322.1 L1248.1,321.1 L1249.0,320.0 L1250.0,319.0 L1250.9,317.9 L1251.9,316.9 L1252.8,315.8 L1253.8,314.8 L1254.8,313.8 L1255.7,312.7 L1256.7,311.7 L1257.7,310.7 L1258.6,309.6 L1259.6,308.6 L1260.6,307.6 L1261.6,306.6 L1262.5,305.5 L1263.5,304.5 L1264.5,303.5 L1265.5,302.5 L1266.5,301.5 L1267.5,300.5 L1268.5,299.5 L1269.5,298.5 L1270.5,297.5 L1271.5,296.5 L1272.5,295.5 L1273.5,294.5 L1274.5,293.5 L1275.5,292.5 L1276.6,291.6 L1277.6,290.6 L1278.6,289.6 L1279.6,288.6 L1280.7,287.7 L1281.7,286.7 L1282.7,285.7 L1283.8,284.8 L1284.8,283.8 L1285.9,282.9 L1286.9,281.9 L1288.0,281.0 L1289.0,280.0 L1290.1,279.1 L1291.2,278.2 L1292.2,277.2 L1293.3,276.3 L1294.4,275.4 L1295.4,274.4 L1296.5,273.5 L1297.6,272.6 L1298.7,271.7 L1299.8,270.8 L1300.9,269.9 L1302.0,269.0 L1303.1,268.1 L1304.2,267.2 L1305.3,266.3 L1306.4,265.4 L1307.6,264.6 L1308.7,263.7 L1309.8,262.8 L1310.9,261.9 L1312.1,261.1 L1313.2,260.2 L1314.4,259.4 L1315.5,258.5 L1316.7,257.7 L1317.8,256.8 L1319.0,256.0 L1320.1,255.1 L1321.3,254.3 L1322.5,253.5 L1323.7,252.7 L1324.8,251.8 L1326.0,251.0 L1327.2,250.2 L1328.4,249.4 L1329.6,248.6 L1330.8,247.8 L1332.0,247.0 L1333.2,246.2 L1334.4,245.4 L1335.6,244.6 L1336.8,243.8 L1338.0,243.0 L1339.3,242.3 L1340.5,241.5 L1341.7,240.7 L1343.0,240.0 L1344.2,239.2 L1345.4,238.4 L1346.7,237.7 L1347.9,236.9 L1349.2,236.2 L1350.4,235.4 L1351.7,234.7 L1352.9,233.9 L1354.2,233.2 L1355.5,232.5 L1356.7,231.7 L1358.0,231.0 L1359.3,230.3 L1360.6,229.6 L1361.9,228.9 L1363.2,228.2 L1364.4,227.4 L1365.7,226.7 L1367.0,226.0 L1368.3,225.3 L1369.6,224.6 L1371.0,224.0 L1372.3,223.3 L1373.6,222.6 L1374.9,221.9 L1376.2,221.2 L1377.5,220.5 L1378.9,219.9 L1380.2,219.2 L1381.5,218.5 L1382.9,217.9 L1384.2,217.2 L1385.6,216.6 L1386.9,215.9 L1388.3,215.3 L1389.6,214.6 L1391.0,214.0 L1392.3,213.3 L1393.7,212.7 L1395.0,212.0 L1396.4,211.4 L1397.8,210.8 L1399.2,210.2 L1400.5,209.5 L1401.9,208.9 L1403.3,208.3 L1404.7,207.7 L1406.1,207.1 L1407.5,206.5 L1408.8,205.8 L1410.2,205.2 L1411.6,204.6 L1413.0,204.0 L1414.5,203.5 L1415.9,202.9 L1417.3,202.3 L1418.7,201.7 L1420.1,201.1 L1421.5,200.5 L1422.9,199.9 L1424.4,199.4 L1425.8,198.8 L1427.2,198.2 L1428.7,197.7 L1430.1,197.1 L1431.5,196.5 L1433.0,196.0 L1434.4,195.4 L1435.9,194.9 L1437.3,194.3 L1438.8,193.8 L1440.2,193.2 L1441.7,192.7 L1443.1,192.1 L1444.6,191.6 L1446.0,191.0 L1447.5,190.5 L1449.0,190.0 L1450.5,189.5 L1451.9,188.9 L1453.4,188.4 L1454.9,187.9 L1456.4,187.4 L1457.8,186.8 L1459.3,186.3 L1460.8,185.8 L1462.3,185.3 L1463.8,184.8 L1465.3,184.3 L1466.8,183.8 L1468.3,183.3 L1469.8,182.8 L1471.3,182.3 L1472.8,181.8 L1474.3,181.3 L1475.8,180.8 L1477.3,180.3 L1478.8,179.8 L1480.4,179.4 L1481.9,178.9 L1483.4,178.4 L1484.9,177.9 L1486.5,177.5 L1488.0,177.0 L1489.5,176.5 L1491.0,176.0 L1492.6,175.6 L1494.1,175.1 L1495.7,174.7 L1497.2,174.2 L1498.7,173.7 L1500.3,173.3 L1501.8,172.8 L1503.4,172.4 L1504.9,171.9 L1506.5,171.5 L1508.0,171.0 L1509.6,170.6 L1511.2,170.2 L1512.7,169.7 L1514.3,169.3 L1515.8,168.8 L1517.4,168.4 L1519.0,168.0 L1520.5,167.5 L1522.1,167.1 L1523.7,166.7 L1525.3,166.3 L1526.8,165.8 L1528.4,165.4 L1530.0,165.0 L1531.6,164.6 L1533.2,164.2 L1534.7,163.7 L1536.3,163.3 L1537.9,162.9 L1539.5,162.5 L1541.1,162.1 L1542.7,161.7 L1544.3,161.3 L1545.9,160.9 L1547.5,160.5 L1549.1,160.1 L1550.7,159.7 L1552.3,159.3 L1553.9,158.9 L1555.5,158.5 L1557.1,158.1 L1558.7,157.7 L1560.3,157.3 L1561.9,156.9 L1563.6,156.6 L1565.2,156.2 L1566.8,155.8 L1568.4,155.4 L1570.0,155.0 L1571.6,154.6 L1573.3,154.3 L1574.9,153.9 L1576.5,153.5 L1578.1,153.1 L1579.8,152.8 L1581.4,152.4 L1583.0,152.0 L1584.7,151.7 L1586.3,151.3 L1587.9,150.9 L1589.6,150.6 L1591.2,150.2 L1592.8,149.8 L1594.5,149.5 L1596.1,149.1 L1597.8,148.8 L1599.4,148.4 L1601.0,148.0 L1602.7,147.7 L1604.3,147.3 L1606.0,147.0 L1607.6,146.6 L1609.3,146.3 L1610.9,145.9 L1612.6,145.6 L1614.2,145.2 L1615.9,144.9 L1617.5,144.5 L1619.2,144.2 L1620.9,143.9 L1622.5,143.5 L1624.2,143.2 L1625.8,142.8 L1627.5,142.5 L1629.2,142.2 L1630.8,141.8 L1632.5,141.5 L1634.2,141.2 L1635.8,140.8 L1637.5,140.5 L1639.2,140.2 L1640.9,139.9 L1642.5,139.5 L1644.2,139.2 L1645.9,138.9 L1647.5,138.5 L1649.2,138.2 L1650.9,137.9 L1652.6,137.6 L1654.3,137.3 L1655.9,136.9 L1657.6,136.6 L1659.3,136.3 L1661.0,136.0 L1662.7,135.7 L1664.4,135.4 L1666.1,135.1 L1667.8,134.8 L1669.4,134.4 L1671.1,134.1 L1672.8,133.8 L1674.5,133.5 L1676.2,133.2 L1677.9,132.9 L1679.6,132.6 L1681.3,132.3 L1683.0,132.0 L1684.7,131.7 L1686.4,131.4 L1688.1,131.1 L1689.8,130.8 L1691.5,130.5 L1693.2,130.2 L1694.9,129.9 L1696.6,129.6 L1698.3,129.3 L1700.1,129.1 L1701.8,128.8 L1703.5,128.5 L1705.2,128.2 L1706.9,127.9 L1708.6,127.6 L1710.3,127.3 L1712.1,127.1 L1713.8,126.8 L1715.5,126.5 L1717.2,126.2 L1718.9,125.9 L1720.6,125.6 L1722.4,125.4 L1724.1,125.1 L1725.8,124.8 L1727.5,124.5 L1729.3,124.3 L1731.0,124.0 L1732.7,123.7 L1734.5,123.5 L1736.2,123.2 L1737.9,122.9 L1739.7,122.7 L1741.4,122.4 L1743.1,122.1 L1744.9,121.9 L1746.6,121.6 L1748.3,121.3 L1750.1,121.1 L1751.8,120.8 L1753.5,120.5 L1755.3,120.3 L1757.0,120.0 L1758.8,119.8 L1760.5,119.5 L1762.3,119.3 L1764.0,119.0 L1765.7,118.7 L1767.5,118.5 L1769.2,118.2 L1771.0,118.0 L1772.7,117.7 L1774.5,117.5 L1776.2,117.2 L1778.0,117.0 L1779.7,116.7 L1781.5,116.5 L1783.3,116.3 L1785.0,116.0 L1786.8,115.8 L1788.5,115.5 L1790.3,115.3 L1792.0,115.0 L1793.8,114.8 L1795.6,114.6 L1797.3,114.3 L1799.1,114.1 L1800.9,113.9 L1802.6,113.6 L1804.4,113.4 L1806.2,113.2 L1807.9,112.9 L1809.7,112.7 L1811.5,112.5 L1813.2,112.2 L1815.0,112.0 L1816.8,111.8 L1818.5,111.5 L1820.3,111.3 L1822.1,111.1 L1823.9,110.9 L1825.6,110.6 L1827.4,110.4 L1829.2,110.2 L1831.0,110.0 L1832.7,109.7 L1834.5,109.5 L1836.3,109.3 L1838.1,109.1 L1839.9,108.9 L1841.6,108.6 L1843.4,108.4 L1845.2,108.2 L1847.0,108.0 L1848.8,107.8 L1850.6,107.6 L1852.4,107.4 L1854.1,107.1 L1855.9,106.9 L1857.7,106.7 L1859.5,106.5 L1861.3,106.3 L1863.1,106.1 L1864.9,105.9 L1866.7,105.7 L1868.5,105.5 L1870.3,105.3 L1872.1,105.1 L1873.9,104.9 L1875.7,104.7 L1877.4,104.4 L1879.2,104.2 L1881.0,104.0 L1882.8,103.8 L1884.6,103.6 L1886.4,103.4 L1888.2,103.2 L1890.0,103.0 L1891.9,102.9 L1893.7,102.7 L1895.5,102.5 L1897.3,102.3 L1899.1,102.1 L1900.9,101.9 L1902.7,101.7 L1904.5,101.5 L1906.3,101.3 L1908.1,101.1 L1909.9,100.9 L1911.7,100.7 L1913.5,100.5 L1915.3,100.3 L1917.2,100.2 L1919.0,100.0 L1920.8,99.8 L1922.6,99.6 L1924.4,99.4 L1926.2,99.2 L1928.0,99.0 L1929.9,98.9 L1931.7,98.7 L1933.5,98.5 L1935.3,98.3 L1937.1,98.1 L1938.9,97.9 L1940.8,97.8 L1942.6,97.6 L1944.4,97.4 L1946.2,97.2 L1948.1,97.1 L1949.9,96.9 L1951.7,96.7 L1953.5,96.5 L1955.3,96.3 L1957.2,96.2 L1959.0,96.0 L1960.8,95.8 L1962.7,95.7 L1964.5,95.5 L1966.3,95.3 L1968.1,95.1 L1970.0,95.0 L1971.8,94.8 L1973.6,94.6 L1975.5,94.5 L1977.3,94.3 L1979.1,94.1 L1981.0,94.0 L1982.8,93.8 L1984.6,93.6 L1986.5,93.5 L1988.3,93.3 L1990.1,93.1 L1992.0,93.0 L1993.8,92.8 L1995.6,92.6 L1997.5,92.5 L1999.3,92.3 L2001.1,92.1 L2003.0,92.0 L2004.8,91.8 L2006.7,91.7 L2008.5,91.5 L2010.3,91.3 L2012.2,91.2 L2014.0,91.0 L2015.9,90.9 L2017.7,90.7 L2019.5,90.5 L2021.4,90.4 L2023.2,90.2 L2025.1,90.1 L2026.9,89.9 L2028.8,89.8 L2030.6,89.6 L2032.5,89.5 L2034.3,89.3 L2036.1,89.1 L2038.0,89.0 L2039.8,88.8 L2041.7,88.7 L2043.5,88.5 L2045.4,88.4 L2047.2,88.2 L2049.1,88.1 L2050.9,87.9 L2052.8,87.8 L2054.6,87.6 L2056.5,87.5 L2058.3,87.3 L2060.2,87.2 L2062.0,87.0 L2063.9,86.9 L2065.8,86.8 L2067.6,86.6 L2069.5,86.5 L2071.3,86.3 L2073.2,86.2 L2075.0,86.0 L2076.9,85.9 L2078.7,85.7 L2080.6,85.6 L2082.5,85.5 L2084.3,85.3 L2086.2,85.2 L2088.0,85.0 L2089.9,84.9 L2091.7,84.7 L2093.6,84.6 L2095.5,84.5 L2097.3,84.3 L2099.2,84.2 L2101.0,84.0 L2102.9,83.9 L2104.8,83.8 L2106.6,83.6 L2108.5,83.5 L2110.3,83.3 L2112.2,83.2 L2114.1,83.1 L2115.9,82.9 L2117.8,82.8 L2119.7,82.7 L2121.5,82.5 L2123.4,82.4 L2125.2,82.2 L2127.1,82.1 L2129.0,82.0 L2130.8,81.8 L2132.7,81.7 L2134.6,81.6 L2136.4,81.4 L2138.3,81.3 L2140.2,81.2 L2142.0,81.0 L2143.9,80.9 L2145.8,80.8 L2147.6,80.6 L2149.5,80.5 L2151.4,80.4 L2153.2,80.2 L2155.1,80.1 L2157.0,80.0 L2158.8,79.8 L2160.7,79.7 L2162.6,79.6 L2164.5,79.5 L2166.3,79.3 L2168.2,79.2 L2170.1,79.1 L2171.9,78.9 L2173.8,78.8 L2175.7,78.7 L2177.5,78.5 L2179.4,78.4 L2181.3,78.3 L2183.2,78.2 L2185.0,78.0 L2186.9,77.9 L2188.8,77.8 L2190.6,77.6 L2192.5,77.5 L2194.4,77.4 L2196.3,77.3 L2198.1,77.1 L2200.0,77.0 L2201.9,76.9 L2203.8,76.8 L2205.6,76.6 L2207.5,76.5 L2209.4,76.4 L2211.3,76.3 L2213.1,76.1 L2215.0,76.0 L2216.9,75.9 L2218.7,75.7 L2220.6,75.6 L2222.5,75.5 L2224.4,75.4 L2226.2,75.2 L2228.1,75.1 L2230.0,75.0 L2231.9,74.9 L2233.7,74.7 L2235.6,74.6 L2237.5,74.5 L2239.4,74.4 L2241.2,74.2 L2243.1,74.1 L2245.0,74.0 L2246.9,73.9 L2248.8,73.8 L2250.6,73.6 L2252.5,73.5 L2254.4,73.4 L2256.3,73.3 L2258.1,73.1 L2260.0,73.0 L2261.9,72.9 L2263.8,72.8 L2265.6,72.6 L2267.5,72.5 L2269.4,72.4 L2271.3,72.3 L2273.1,72.1 L2275.0,72.0 L2276.9,71.9 L2278.8,71.8 L2280.7,71.7 L2282.5,71.5 L2284.4,71.4 L2286.3,71.3 L2288.2,71.2 L2290.0,71.0 L2291.9,70.9 L2293.8,70.8 L2295.7,70.7 L2297.6,70.6 L2299.4,70.4 L2301.3,70.3 L2303.2,70.2 L2305.1,70.1 L2306.9,69.9 L2308.8,69.8 L2310.7,69.7 L2312.6,69.6 L2314.4,69.4 L2316.3,69.3 L2318.2,69.2 L2320.1,69.1 L2322.0,69.0 L2323.8,68.8 L2325.7,68.7 L2327.6,68.6 L2329.5,68.5 L2331.3,68.3 L2333.2,68.2 L2335.1,68.1 L2337.0,68.0 L2338.8,67.8 L2340.7,67.7 L2342.6,67.6 L2344.5,67.5 L2346.3,67.3 L2348.2,67.2 L2350.1,67.1 L2352.0,67.0" fill="none" stroke="#0000ff" stroke-width="8.5" stroke-linejoin="round"/>
<path d="M362.9,1375.9 L364.9,1375.9 L367.0,1376.0 L369.0,1376.0 L371.0,1376.0 L373.0,1376.0 L375.0,1376.0 L377.0,1376.0 L379.0,1376.0 L381.0,1376.0 L383.0,1376.0 L385.0,1376.0 L387.0,1376.0 L389.0,1376.0 L391.0,1376.0 L393.0,1376.0 L395.0,1376.0 L397.0,1376.0 L399.0,1376.0 L401.0,1376.0 L403.0,1376.0 L405.0,1376.0 L407.0,1376.0 L409.0,1376.0 L411.0,1376.0 L413.0,1376.0 L415.0,1376.0 L417.0,1376.0 L419.0,1376.0 L421.1,1376.1 L423.1,1376.1 L425.1,1376.1 L427.1,1376.1 L429.1,1376.1 L431.1,1376.1 L433.1,1376.1 L435.1,1376.1 L437.1,1376.1 L439.1,1376.1 L441.1,1376.1 L443.1,1376.1 L445.1,1376.1 L447.1,1376.1 L449.0,1376.0 L451.0,1376.0 L453.0,1376.0 L455.0,1376.0 L457.0,1376.0 L459.0,1376.0 L461.0,1376.0 L463.0,1376.0 L465.0,1376.0 L467.0,1376.0 L469.0,1376.0 L471.0,1376.0 L473.0,1376.0 L475.0,1376.0 L477.0,1376.0 L479.0,1376.0 L481.0,1376.0 L483.0,1376.0 L485.0,1376.0 L487.0,1376.0 L489.0,1376.0 L491.0,1376.0 L493.0,1376.0 L495.0,1376.0 L497.0,1376.0 L499.0,1376.0 L501.0,1376.0 L503.0,1376.0 L505.0,1376.0 L507.0,1376.0 L509.0,1376.0 L511.0,1376.0 L513.0,1376.0 L515.0,1376.0 L517.0,1376.0 L519.0,1376.0 L521.0,1376.0 L523.0,1376.0 L525.0,1376.0 L527.0,1376.0 L529.0,1376.0 L531.0,1376.0 L533.0,1376.0 L535.0,1376.0 L537.0,1376.0 L539.0,1376.0 L540.9,1375.9 L542.9,1375.9 L544.9,1375.9 L546.9,1375.9 L548.9,1375.9 L550.9,1375.9 L552.9,1375.9 L554.9,1375.9 L556.9,1375.9 L558.9,1375.9 L560.9,1375.9 L562.9,1375.9 L564.9,1375.9 L566.9,1375.9 L568.9,1375.9 L570.9,1375.9 L572.9,1375.9 L574.9,1375.9 L576.9,1375.9 L578.9,1375.9 L580.9,1375.9 L582.9,1375.9 L584.9,1375.9 L586.9,1375.9 L588.9,1375.9 L590.9,1375.9 L592.9,1375.9 L594.9,1375.9 L596.9,1375.9 L598.9,1375.9 L600.9,1375.9 L602.9,1375.9 L604.9,1375.9 L606.9,1375.9 L608.9,1375.9 L610.9,1375.9 L612.9,1375.9 L614.9,1375.9 L616.9,1375.9 L618.9,1375.9 L620.9,1375.9 L622.9,1375.9 L625.0,1376.0 L627.0,1376.0 L629.0,1376.0 L631.0,1376.0 L633.0,1376.0 L635.0,1376.0 L637.0,1376.0 L639.0,1376.0 L641.0,1376.0 L643.0,1376.0 L645.0,1376.0 L647.0,1376.0 L649.0,1376.0 L651.0,1376.0 L653.0,1376.0 L655.0,1376.0 L657.0,1376.0 L659.0,1376.0 L661.0,1376.0 L663.0,1376.0 L665.1,1376.1 L667.1,1376.1 L669.1,1376.1 L671.1,1376.1 L673.1,1376.1 L675.1,1376.1 L677.1,1376.1 L679.1,1376.1 L681.1,1376.1 L683.1,1376.1 L685.1,1376.1 L687.1,1376.1 L689.1,1376.1 L691.1,1376.1 L693.1,1376.1 L695.1,1376.1 L697.1,1376.1 L699.1,1376.1 L701.1,1376.1 L703.2,1376.2 L705.2,1376.2 L707.2,1376.2 L709.2,1376.2 L711.2,1376.2 L713.2,1376.2 L715.2,1376.2 L717.2,1376.2 L719.2,1376.2 L721.2,1376.2 L723.2,1376.2 L725.2,1376.2 L727.2,1376.2 L729.2,1376.2 L731.2,1376.2 L733.2,1376.2 L735.2,1376.2 L737.1,1376.1 L739.1,1376.1 L741.1,1376.1 L743.1,1376.1 L745.1,1376.1 L747.1,1376.1 L749.1,1376.1 L751.1,1376.1 L753.1,1376.1 L755.1,1376.1 L757.1,1376.1 L759.1,1376.1 L761.1,1376.1 L763.0,1376.0 L765.0,1376.0 L767.0,1376.0 L769.0,1376.0 L771.0,1376.0 L773.0,1376.0 L775.0,1376.0 L776.9,1375.9 L778.9,1375.9 L780.9,1375.9 L782.9,1375.9 L784.9,1375.9 L786.9,1375.9 L788.9,1375.9 L790.8,1375.8 L792.8,1375.8 L794.8,1375.8 L796.8,1375.8 L798.8,1375.8 L800.8,1375.8 L802.8,1375.8 L804.7,1375.7 L806.7,1375.7 L808.7,1375.7 L810.7,1375.7 L812.7,1375.7 L814.7,1375.7 L816.7,1375.7 L818.7,1375.7 L820.7,1375.7 L822.7,1375.7 L824.7,1375.7 L826.7,1375.7 L828.7,1375.7 L830.7,1375.7 L832.7,1375.7 L834.7,1375.7 L836.7,1375.7 L838.7,1375.7 L840.7,1375.7 L842.7,1375.7 L844.7,1375.7 L846.7,1375.7 L848.8,1375.8 L850.8,1375.8 L852.8,1375.8 L854.8,1375.8 L856.8,1375.8 L858.9,1375.9 L860.9,1375.9 L862.9,1375.9 L865.0,1376.0 L867.0,1376.0 L869.0,1376.0 L871.1,1376.1 L873.1,1376.1 L875.2,1376.2 L877.2,1376.2 L879.2,1376.2 L881.3,1376.3 L883.4,1376.4 L885.4,1376.4 L887.5,1376.5 L889.5,1376.5 L891.6,1376.6 L893.6,1376.6 L895.7,1376.7 L897.8,1376.8 L899.8,1376.8 L901.8,1376.8 L903.9,1376.9 L905.9,1376.9 L907.9,1376.9 L910.0,1377.0 L912.0,1377.0 L914.0,1377.0 L916.0,1377.0 L917.9,1376.9 L919.9,1376.9 L921.9,1376.9 L923.8,1376.8 L925.7,1376.7 L927.7,1376.7 L929.6,1376.6 L931.4,1376.4 L933.3,1376.3 L935.1,1376.1 L936.9,1375.9 L938.7,1375.7 L940.3,1375.3 L941.9,1374.9 L943.5,1374.5 L945.0,1374.0 L946.5,1373.5 L947.9,1372.9 L949.2,1372.2 L950.6,1371.6 L951.9,1370.9 L953.1,1370.1 L954.3,1369.3 L955.6,1368.6 L956.8,1367.8 L957.9,1366.9 L959.1,1366.1 L960.2,1365.2 L961.3,1364.3 L962.4,1363.4 L963.4,1362.4 L964.5,1361.5 L965.5,1360.5 L966.5,1359.5 L967.5,1358.5 L968.4,1357.4 L969.4,1356.4 L970.3,1355.3 L971.2,1354.2 L972.1,1353.1 L973.0,1352.0 L973.9,1350.9 L974.7,1349.7 L975.5,1348.5 L976.4,1347.4 L977.1,1346.1 L977.9,1344.9 L978.7,1343.7 L979.5,1342.5 L980.2,1341.2 L980.9,1339.9 L981.6,1338.6 L982.3,1337.3 L983.0,1336.0 L983.7,1334.7 L984.4,1333.4 L985.0,1332.0 L985.7,1330.7 L986.3,1329.3 L987.0,1328.0 L987.6,1326.6 L988.2,1325.2 L988.8,1323.8 L989.4,1322.4 L990.0,1321.0 L990.5,1319.5 L991.1,1318.1 L991.7,1316.7 L992.2,1315.2 L992.8,1313.8 L993.3,1312.3 L993.9,1310.9 L994.4,1309.4 L994.9,1307.9 L995.5,1306.5 L996.0,1305.0 L996.5,1303.5 L997.0,1302.0 L997.5,1300.5 L998.0,1299.0 L998.5,1297.5 L999.0,1296.0 L999.5,1294.5 L1000.0,1293.0 L1000.5,1291.5 L1001.0,1290.0 L1001.5,1288.5 L1002.0,1287.0 L1002.5,1285.5 L1002.9,1283.9 L1003.4,1282.4 L1003.9,1280.9 L1004.4,1279.4 L1004.8,1277.8 L1005.3,1276.3 L1005.7,1274.7 L1006.2,1273.2 L1006.7,1271.7 L1007.1,1270.1 L1007.6,1268.6 L1008.0,1267.0 L1008.4,1265.4 L1008.9,1263.9 L1009.3,1262.3 L1009.8,1260.8 L1010.2,1259.2 L1010.6,1257.6 L1011.0,1256.0 L1011.5,1254.5 L1011.9,1252.9 L1012.3,1251.3 L1012.7,1249.7 L1013.1,1248.1 L1013.6,1246.6 L1014.0,1245.0 L1014.4,1243.4 L1014.8,1241.8 L1015.2,1240.2 L1015.6,1238.6 L1016.0,1237.0 L1016.4,1235.4 L1016.8,1233.8 L1017.2,1232.2 L1017.6,1230.6 L1018.0,1229.0 L1018.3,1227.3 L1018.7,1225.7 L1019.1,1224.1 L1019.5,1222.5 L1019.9,1220.9 L1020.2,1219.2 L1020.6,1217.6 L1021.0,1216.0 L1021.4,1214.4 L1021.7,1212.7 L1022.1,1211.1 L1022.5,1209.5 L1022.8,1207.8 L1023.2,1206.2 L1023.6,1204.6 L1023.9,1202.9 L1024.3,1201.3 L1024.6,1199.6 L1025.0,1198.0 L1025.4,1196.4 L1025.7,1194.7 L1026.1,1193.1 L1026.4,1191.4 L1026.8,1189.8 L1027.1,1188.1 L1027.5,1186.5 L1027.8,1184.8 L1028.2,1183.2 L1028.5,1181.5 L1028.8,1179.8 L1029.2,1178.2 L1029.5,1176.5 L1029.9,1174.9 L1030.2,1173.2 L1030.5,1171.5 L1030.9,1169.9 L1031.2,1168.2 L1031.6,1166.6 L1031.9,1164.9 L1032.2,1163.2 L1032.6,1161.6 L1032.9,1159.9 L1033.2,1158.2 L1033.5,1156.5 L1033.9,1154.9 L1034.2,1153.2 L1034.5,1151.5 L1034.9,1149.9 L1035.2,1148.2 L1035.5,1146.5 L1035.8,1144.8 L1036.2,1143.2 L1036.5,1141.5 L1036.8,1139.8 L1037.1,1138.1 L1037.5,1136.5 L1037.8,1134.8 L1038.1,1133.1 L1038.4,1131.4 L1038.8,1129.8 L1039.1,1128.1 L1039.4,1126.4 L1039.7,1124.7 L1040.1,1123.1 L1040.4,1121.4 L1040.7,1119.7 L1041.0,1118.0 L1041.4,1116.4 L1041.7,1114.7 L1042.0,1113.0 L1042.3,1111.3 L1042.6,1109.6 L1043.0,1108.0 L1043.3,1106.3 L1043.6,1104.6 L1043.9,1102.9 L1044.2,1101.2 L1044.6,1099.6 L1044.9,1097.9 L1045.2,1096.2 L1045.5,1094.5 L1045.8,1092.8 L1046.2,1091.2 L1046.5,1089.5 L1046.8,1087.8 L1047.1,1086.1 L1047.4,1084.4 L1047.8,1082.8 L1048.1,1081.1 L1048.4,1079.4 L1048.7,1077.7 L1049.0,1076.0 L1049.3,1074.3 L1049.7,1072.7 L1050.0,1071.0 L1050.3,1069.3 L1050.6,1067.6 L1050.9,1065.9 L1051.3,1064.3 L1051.6,1062.6 L1051.9,1060.9 L1052.2,1059.2 L1052.5,1057.5 L1052.8,1055.8 L1053.2,1054.2 L1053.5,1052.5 L1053.8,1050.8 L1054.1,1049.1 L1054.4,1047.4 L1054.7,1045.7 L1055.0,1044.0 L1055.4,1042.4 L1055.7,1040.7 L1056.0,1039.0 L1056.3,1037.3 L1056.6,1035.6 L1056.9,1033.9 L1057.3,1032.3 L1057.6,1030.6 L1057.9,1028.9 L1058.2,1027.2 L1058.5,1025.5 L1058.8,1023.8 L1059.2,1022.2 L1059.5,1020.5 L1059.8,1018.8 L1060.1,1017.1 L1060.4,1015.4 L1060.7,1013.7 L1061.0,1012.0 L1061.4,1010.4 L1061.7,1008.7 L1062.0,1007.0 L1062.3,1005.3 L1062.6,1003.6 L1062.9,1001.9 L1063.2,1000.2 L1063.6,998.6 L1063.9,996.9 L1064.2,995.2 L1064.5,993.5 L1064.8,991.8 L1065.1,990.1 L1065.4,988.4 L1065.8,986.8 L1066.1,985.1 L1066.4,983.4 L1066.7,981.7 L1067.0,980.0 L1067.3,978.3 L1067.7,976.7 L1068.0,975.0 L1068.3,973.3 L1068.6,971.6 L1068.9,969.9 L1069.2,968.2 L1069.5,966.5 L1069.9,964.9 L1070.2,963.2 L1070.5,961.5 L1070.8,959.8 L1071.1,958.1 L1071.4,956.4 L1071.7,954.7 L1072.1,953.1 L1072.4,951.4 L1072.7,949.7 L1073.0,948.0 L1073.3,946.3 L1073.6,944.6 L1074.0,943.0 L1074.3,941.3 L1074.6,939.6 L1074.9,937.9 L1075.2,936.2 L1075.5,934.5 L1075.9,932.9 L1076.2,931.2 L1076.5,929.5 L1076.8,927.8 L1077.1,926.1 L1077.4,924.4 L1077.8,922.8 L1078.1,921.1 L1078.4,919.4 L1078.7,917.7 L1079.0,916.0 L1079.3,914.3 L1079.7,912.7 L1080.0,911.0 L1080.3,909.3 L1080.6,907.6 L1080.9,905.9 L1081.3,904.3 L1081.6,902.6 L1081.9,900.9 L1082.2,899.2 L1082.5,897.5 L1082.9,895.9 L1083.2,894.2 L1083.5,892.5 L1083.8,890.8 L1084.1,889.1 L1084.5,887.5 L1084.8,885.8 L1085.1,884.1 L1085.4,882.4 L1085.7,880.7 L1086.1,879.1 L1086.4,877.4 L1086.7,875.7 L1087.0,874.0 L1087.4,872.4 L1087.7,870.7 L1088.0,869.0 L1088.3,867.3 L1088.6,865.6 L1089.0,864.0 L1089.3,862.3 L1089.6,860.6 L1089.9,858.9 L1090.3,857.3 L1090.6,855.6 L1090.9,853.9 L1091.2,852.2 L1091.6,850.6 L1091.9,848.9 L1092.2,847.2 L1092.5,845.5 L1092.9,843.9 L1093.2,842.2 L1093.5,840.5 L1093.8,838.8 L1094.2,837.2 L1094.5,835.5 L1094.8,833.8 L1095.2,832.2 L1095.5,830.5 L1095.8,828.8 L1096.1,827.1 L1096.5,825.5 L1096.8,823.8 L1097.1,822.1 L1097.5,820.5 L1097.8,818.8 L1098.1,817.1 L1098.5,815.5 L1098.8,813.8 L1099.1,812.1 L1099.5,810.5 L1099.8,808.8 L1100.1,807.1 L1100.4,805.4 L1100.8,803.8 L1101.1,802.1 L1101.5,800.5 L1101.8,798.8 L1102.1,797.1 L1102.5,795.5 L1102.8,793.8 L1103.1,792.1 L1103.5,790.5 L1103.8,788.8 L1104.1,787.1 L1104.5,785.5 L1104.8,783.8 L1105.1,782.1 L1105.5,780.5 L1105.8,778.8 L1106.2,777.2 L1106.5,775.5 L1106.8,773.8 L1107.2,772.2 L1107.5,770.5 L1107.9,768.9 L1108.2,767.2 L1108.5,765.5 L1108.9,763.9 L1109.2,762.2 L1109.6,760.6 L1109.9,758.9 L1110.3,757.3 L1110.6,755.6 L1110.9,753.9 L1111.3,752.3 L1111.6,750.6 L1112.0,749.0 L1112.3,747.3 L1112.7,745.7 L1113.0,744.0 L1113.4,742.4 L1113.7,740.7 L1114.1,739.1 L1114.4,737.4 L1114.8,735.8 L1115.1,734.1 L1115.5,732.5 L1115.8,730.8 L1116.2,729.2 L1116.5,727.5 L1116.9,725.9 L1117.2,724.2 L1117.6,722.6 L1117.9,720.9 L1118.3,719.3 L1118.6,717.6 L1119.0,716.0 L1119.4,714.4 L1119.7,712.7 L1120.1,711.1 L1120.4,709.4 L1120.8,707.8 L1121.1,706.1 L1121.5,704.5 L1121.9,702.9 L1122.2,701.2 L1122.6,699.6 L1122.9,697.9 L1123.3,696.3 L1123.7,694.7 L1124.0,693.0 L1124.4,691.4 L1124.8,689.8 L1125.1,688.1 L1125.5,686.5 L1125.9,684.9 L1126.2,683.2 L1126.6,681.6 L1127.0,680.0 L1127.4,678.4 L1127.7,676.7 L1128.1,675.1 L1128.5,673.5 L1128.8,671.8 L1129.2,670.2 L1129.6,668.6 L1130.0,667.0 L1130.3,665.3 L1130.7,663.7 L1131.1,662.1 L1131.5,660.5 L1131.9,658.9 L1132.2,657.2 L1132.6,655.6 L1133.0,654.0 L1133.4,652.4 L1133.8,650.8 L1134.2,649.2 L1134.5,647.5 L1134.9,645.9 L1135.3,644.3 L1135.7,642.7 L1136.1,641.1 L1136.5,639.5 L1136.9,637.9 L1137.3,636.3 L1137.7,634.7 L1138.1,633.1 L1138.5,631.5 L1138.9,629.9 L1139.3,628.3 L1139.7,626.7 L1140.1,625.1 L1140.5,623.5 L1140.9,621.9 L1141.3,620.3 L1141.7,618.7 L1142.1,617.1 L1142.5,615.5 L1142.9,613.9 L1143.3,612.3 L1143.7,610.7 L1144.1,609.1 L1144.5,607.5 L1144.9,605.9 L1145.3,604.3 L1145.8,602.8 L1146.2,601.2 L1146.6,599.6 L1147.0,598.0 L1147.4,596.4 L1147.9,594.9 L1148.3,593.3 L1148.7,591.7 L1149.1,590.1 L1149.5,588.5 L1150.0,587.0 L1150.4,585.4 L1150.8,583.8 L1151.3,582.3 L1151.7,580.7 L1152.1,579.1 L1152.6,577.6 L1153.0,576.0 L1153.4,574.4 L1153.9,572.9 L1154.3,571.3 L1154.7,569.7 L1155.2,568.2 L1155.6,566.6 L1156.1,565.1 L1156.5,563.5 L1157.0,562.0 L1157.4,560.4 L1157.9,558.9 L1158.3,557.3 L1158.8,555.8 L1159.2,554.2 L1159.7,552.7 L1160.1,551.1 L1160.6,549.6 L1161.0,548.0 L1161.5,546.5 L1162.0,545.0 L1162.4,543.4 L1162.9,541.9 L1163.3,540.3 L1163.8,538.8 L1164.3,537.3 L1164.8,535.8 L1165.2,534.2 L1165.7,532.7 L1166.2,531.2 L1166.6,529.6 L1167.1,528.1 L1167.6,526.6 L1168.1,525.1 L1168.6,523.6 L1169.0,522.0 L1169.5,520.5 L1170.0,519.0 L1170.5,517.5 L1171.0,516.0 L1171.5,514.5 L1172.0,513.0 L1172.5,511.5 L1173.0,510.0 L1173.5,508.5 L1174.0,507.0 L1174.5,505.5 L1175.0,504.0 L1175.5,502.5 L1176.0,501.0 L1176.5,499.5 L1177.0,498.0 L1177.5,496.5 L1178.0,495.0 L1178.5,493.5 L1179.0,492.0 L1179.6,490.6 L1180.1,489.1 L1180.6,487.6 L1181.1,486.1 L1181.6,484.6 L1182.2,483.2 L1182.7,481.7 L1183.2,480.2 L1183.7,478.7 L1184.3,477.3 L1184.8,475.8 L1185.3,474.3 L1185.9,472.9 L1186.4,471.4 L1187.0,470.0 L1187.5,468.5 L1188.1,467.1 L1188.6,465.6 L1189.1,464.1 L1189.7,462.7 L1190.2,461.2 L1190.8,459.8 L1191.4,458.4 L1191.9,456.9 L1192.5,455.5 L1193.0,454.0 L1193.6,452.6 L1194.2,451.2 L1194.7,449.7 L1195.3,448.3 L1195.9,446.9 L1196.4,445.4 L1197.0,444.0 L1197.6,442.6 L1198.2,441.2 L1198.8,439.8 L1199.3,438.3 L1199.9,436.9 L1200.5,435.5 L1201.1,434.1 L1201.7,432.7 L1202.3,431.3 L1202.9,429.9 L1203.5,428.5 L1204.1,427.1 L1204.7,425.7 L1205.3,424.3 L1205.9,422.9 L1206.5,421.5 L1207.1,420.1 L1207.7,418.7 L1208.3,417.3 L1208.9,415.9 L1209.5,414.5 L1210.2,413.2 L1210.8,411.8 L1211.4,410.4 L1212.0,409.0 L1212.7,407.7 L1213.3,406.3 L1213.9,404.9 L1214.6,403.6 L1215.2,402.2 L1215.8,400.8 L1216.5,399.5 L1217.1,398.1 L1217.8,396.8 L1218.4,395.4 L1219.1,394.1 L1219.7,392.7 L1220.4,391.4 L1221.0,390.0 L1221.7,388.7 L1222.4,387.4 L1223.0,386.0 L1223.7,384.7 L1224.4,383.4 L1225.0,382.0 L1225.7,380.7 L1226.4,379.4 L1227.1,378.1 L1227.8,376.8 L1228.5,375.5 L1229.1,374.1 L1229.8,372.8 L1230.5,371.5 L1231.2,370.2 L1231.9,368.9 L1232.6,367.6 L1233.4,366.4 L1234.1,365.1 L1234.8,363.8 L1235.5,362.5 L1236.2,361.2 L1236.9,359.9 L1237.7,358.7 L1238.4,357.4 L1239.1,356.1 L1239.9,354.9 L1240.6,353.6 L1241.3,352.3 L1242.1,351.1 L1242.8,349.8 L1243.6,348.6 L1244.3,347.3 L1245.1,346.1 L1245.8,344.8 L1246.6,343.6 L1247.4,342.4 L1248.1,341.1 L1248.9,339.9 L1249.7,338.7 L1250.5,337.5 L1251.2,336.2 L1252.0,335.0 L1252.8,333.8 L1253.6,332.6 L1254.4,331.4 L1255.2,330.2 L1256.0,329.0 L1256.8,327.8 L1257.6,326.6 L1258.4,325.4 L1259.2,324.2 L1260.1,323.1 L1260.9,321.9 L1261.7,320.7 L1262.5,319.5 L1263.4,318.4 L1264.2,317.2 L1265.0,316.0 L1265.9,314.9 L1266.7,313.7 L1267.6,312.6 L1268.4,311.4 L1269.3,310.3 L1270.2,309.2 L1271.0,308.0 L1271.9,306.9 L1272.8,305.8 L1273.6,304.6 L1274.5,303.5 L1275.4,302.4 L1276.3,301.3 L1277.2,300.2 L1278.1,299.1 L1279.0,298.0 L1279.9,296.9 L1280.8,295.8 L1281.7,294.7 L1282.6,293.6 L1283.6,292.6 L1284.5,291.5 L1285.4,290.4 L1286.3,289.3 L1287.3,288.3 L1288.2,287.2 L1289.2,286.2 L1290.1,285.1 L1291.1,284.1 L1292.0,283.0 L1293.0,282.0 L1293.9,280.9 L1294.9,279.9 L1295.9,278.9 L1296.9,277.9 L1297.8,276.8 L1298.8,275.8 L1299.8,274.8 L1300.8,273.8 L1301.8,272.8 L1302.8,271.8 L1303.8,270.8 L1304.8,269.8 L1305.9,268.9 L1306.9,267.9 L1307.9,266.9 L1308.9,265.9 L1310.0,265.0 L1311.0,264.0 L1312.1,263.1 L1313.1,262.1 L1314.2,261.2 L1315.2,260.2 L1316.3,259.3 L1317.3,258.3 L1318.4,257.4 L1319.5,256.5 L1320.6,255.6 L1321.6,254.6 L1322.7,253.7 L1323.8,252.8 L1324.9,251.9 L1326.0,251.0 L1327.1,250.1 L1328.2,249.2 L1329.4,248.4 L1330.5,247.5 L1331.6,246.6 L1332.7,245.7 L1333.9,244.9 L1335.0,244.0 L1336.1,243.1 L1337.3,242.3 L1338.4,241.4 L1339.6,240.6 L1340.7,239.7 L1341.9,238.9 L1343.1,238.1 L1344.2,237.2 L1345.4,236.4 L1346.6,235.6 L1347.8,234.8 L1349.0,234.0 L1350.1,233.1 L1351.3,232.3 L1352.5,231.5 L1353.7,230.7 L1354.9,229.9 L1356.2,229.2 L1357.4,228.4 L1358.6,227.6 L1359.8,226.8 L1361.0,226.0 L1362.3,225.3 L1363.5,224.5 L1364.7,223.7 L1366.0,223.0 L1367.2,222.2 L1368.5,221.5 L1369.7,220.7 L1371.0,220.0 L1372.2,219.2 L1373.5,218.5 L1374.8,217.8 L1376.0,217.0 L1377.3,216.3 L1378.6,215.6 L1379.9,214.9 L1381.2,214.2 L1382.5,213.5 L1383.7,212.7 L1385.0,212.0 L1386.3,211.3 L1387.6,210.6 L1389.0,210.0 L1390.3,209.3 L1391.6,208.6 L1392.9,207.9 L1394.2,207.2 L1395.5,206.5 L1396.9,205.9 L1398.2,205.2 L1399.5,204.5 L1400.9,203.9 L1402.2,203.2 L1403.6,202.6 L1404.9,201.9 L1406.3,201.3 L1407.6,200.6 L1409.0,200.0 L1410.3,199.3 L1411.7,198.7 L1413.1,198.1 L1414.4,197.4 L1415.8,196.8 L1417.2,196.2 L1418.6,195.6 L1420.0,195.0 L1421.3,194.3 L1422.7,193.7 L1424.1,193.1 L1425.5,192.5 L1426.9,191.9 L1428.3,191.3 L1429.7,190.7 L1431.1,190.1 L1432.6,189.6 L1434.0,189.0 L1435.4,188.4 L1436.8,187.8 L1438.2,187.2 L1439.7,186.7 L1441.1,186.1 L1442.5,185.5 L1444.0,185.0 L1445.4,184.4 L1446.8,183.8 L1448.3,183.3 L1449.7,182.7 L1451.2,182.2 L1452.6,181.6 L1454.1,181.1 L1455.6,180.6 L1457.0,180.0 L1458.5,179.5 L1460.0,179.0 L1461.4,178.4 L1462.9,177.9 L1464.4,177.4 L1465.8,176.8 L1467.3,176.3 L1468.8,175.8 L1470.3,175.3 L1471.8,174.8 L1473.3,174.3 L1474.8,173.8 L1476.3,173.3 L1477.8,172.8 L1479.3,172.3 L1480.8,171.8 L1482.3,171.3 L1483.8,170.8 L1485.3,170.3 L1486.8,169.8 L1488.3,169.3 L1489.8,168.8 L1491.4,168.4 L1492.9,167.9 L1494.4,167.4 L1495.9,166.9 L1497.5,166.5 L1499.0,166.0 L1500.5,165.5 L1502.1,165.1 L1503.6,164.6 L1505.2,164.2 L1506.7,163.7 L1508.3,163.3 L1509.8,162.8 L1511.4,162.4 L1512.9,161.9 L1514.5,161.5 L1516.0,161.0 L1517.6,160.6 L1519.1,160.1 L1520.7,159.7 L1522.3,159.3 L1523.8,158.8 L1525.4,158.4 L1527.0,158.0 L1528.5,157.5 L1530.1,157.1 L1531.7,156.7 L1533.3,156.3 L1534.9,155.9 L1536.4,155.4 L1538.0,155.0 L1539.6,154.6 L1541.2,154.2 L1542.8,153.8 L1544.4,153.4 L1546.0,153.0 L1547.6,152.6 L1549.2,152.2 L1550.8,151.8 L1552.4,151.4 L1554.0,151.0 L1555.6,150.6 L1557.2,150.2 L1558.8,149.8 L1560.4,149.4 L1562.0,149.0 L1563.6,148.6 L1565.3,148.3 L1566.9,147.9 L1568.5,147.5 L1570.1,147.1 L1571.7,146.7 L1573.4,146.4 L1575.0,146.0 L1576.6,145.6 L1578.2,145.2 L1579.9,144.9 L1581.5,144.5 L1583.1,144.1 L1584.8,143.8 L1586.4,143.4 L1588.1,143.1 L1589.7,142.7 L1591.3,142.3 L1593.0,142.0 L1594.6,141.6 L1596.3,141.3 L1597.9,140.9 L1599.6,140.6 L1601.2,140.2 L1602.9,139.9 L1604.5,139.5 L1606.2,139.2 L1607.8,138.8 L1609.5,138.5 L1611.1,138.1 L1612.8,137.8 L1614.5,137.5 L1616.1,137.1 L1617.8,136.8 L1619.5,136.5 L1621.1,136.1 L1622.8,135.8 L1624.5,135.5 L1626.1,135.1 L1627.8,134.8 L1629.5,134.5 L1631.2,134.2 L1632.8,133.8 L1634.5,133.5 L1636.2,133.2 L1637.9,132.9 L1639.6,132.6 L1641.2,132.2 L1642.9,131.9 L1644.6,131.6 L1646.3,131.3 L1648.0,131.0 L1649.7,130.7 L1651.4,130.4 L1653.1,130.1 L1654.7,129.7 L1656.4,129.4 L1658.1,129.1 L1659.8,128.8 L1661.5,128.5 L1663.2,128.2 L1664.9,127.9 L1666.6,127.6 L1668.3,127.3 L1670.0,127.0 L1671.8,126.8 L1673.5,126.5 L1675.2,126.2 L1676.9,125.9 L1678.6,125.6 L1680.3,125.3 L1682.0,125.0 L1683.7,124.7 L1685.4,124.4 L1687.2,124.2 L1688.9,123.9 L1690.6,123.6 L1692.3,123.3 L1694.0,123.0 L1695.8,122.8 L1697.5,122.5 L1699.2,122.2 L1700.9,121.9 L1702.7,121.7 L1704.4,121.4 L1706.1,121.1 L1707.9,120.9 L1709.6,120.6 L1711.3,120.3 L1713.1,120.1 L1714.8,119.8 L1716.5,119.5 L1718.3,119.3 L1720.0,119.0 L1721.7,118.7 L1723.5,118.5 L1725.2,118.2 L1727.0,118.0 L1728.7,117.7 L1730.4,117.4 L1732.2,117.2 L1733.9,116.9 L1735.7,116.7 L1737.4,116.4 L1739.2,116.2 L1740.9,115.9 L1742.7,115.7 L1744.4,115.4 L1746.2,115.2 L1747.9,114.9 L1749.7,114.7 L1751.4,114.4 L1753.2,114.2 L1754.9,113.9 L1756.7,113.7 L1758.5,113.5 L1760.2,113.2 L1762.0,113.0 L1763.7,112.7 L1765.5,112.5 L1767.3,112.3 L1769.0,112.0 L1770.8,111.8 L1772.6,111.6 L1774.3,111.3 L1776.1,111.1 L1777.9,110.9 L1779.6,110.6 L1781.4,110.4 L1783.2,110.2 L1784.9,109.9 L1786.7,109.7 L1788.5,109.5 L1790.3,109.3 L1792.0,109.0 L1793.8,108.8 L1795.6,108.6 L1797.4,108.4 L1799.1,108.1 L1800.9,107.9 L1802.7,107.7 L1804.5,107.5 L1806.3,107.3 L1808.0,107.0 L1809.8,106.8 L1811.6,106.6 L1813.4,106.4 L1815.2,106.2 L1816.9,105.9 L1818.7,105.7 L1820.5,105.5 L1822.3,105.3 L1824.1,105.1 L1825.9,104.9 L1827.7,104.7 L1829.5,104.5 L1831.2,104.2 L1833.0,104.0 L1834.8,103.8 L1836.6,103.6 L1838.4,103.4 L1840.2,103.2 L1842.0,103.0 L1843.8,102.8 L1845.6,102.6 L1847.4,102.4 L1849.2,102.2 L1851.0,102.0 L1852.8,101.8 L1854.6,101.6 L1856.4,101.4 L1858.2,101.2 L1860.0,101.0 L1861.7,100.7 L1863.5,100.5 L1865.3,100.3 L1867.1,100.1 L1868.9,99.9 L1870.8,99.8 L1872.6,99.6 L1874.4,99.4 L1876.2,99.2 L1878.0,99.0 L1879.8,98.8 L1881.6,98.6 L1883.4,98.4 L1885.2,98.2 L1887.0,98.0 L1888.8,97.8 L1890.6,97.6 L1892.4,97.4 L1894.2,97.2 L1896.0,97.0 L1897.8,96.8 L1899.6,96.6 L1901.4,96.4 L1903.3,96.3 L1905.1,96.1 L1906.9,95.9 L1908.7,95.7 L1910.5,95.5 L1912.3,95.3 L1914.1,95.1 L1915.9,94.9 L1917.7,94.7 L1919.5,94.5 L1921.4,94.4 L1923.2,94.2 L1925.0,94.0 L1926.8,93.8 L1928.6,93.6 L1930.4,93.4 L1932.2,93.2 L1934.1,93.1 L1935.9,92.9 L1937.7,92.7 L1939.5,92.5 L1941.3,92.3 L1943.1,92.1 L1944.9,91.9 L1946.8,91.8 L1948.6,91.6 L1950.4,91.4 L1952.2,91.2 L1954.0,91.0 L1955.8,90.8 L1957.7,90.7 L1959.5,90.5 L1961.3,90.3 L1963.1,90.1 L1964.9,89.9 L1966.7,89.7 L1968.6,89.6 L1970.4,89.4 L1972.2,89.2 L1974.0,89.0 L1975.8,88.8 L1977.7,88.7 L1979.5,88.5 L1981.3,88.3 L1983.1,88.1 L1984.9,87.9 L1986.8,87.8 L1988.6,87.6 L1990.4,87.4 L1992.2,87.2 L1994.0,87.0 L1995.9,86.9 L1997.7,86.7 L1999.5,86.5 L2001.3,86.3 L2003.2,86.2 L2005.0,86.0 L2006.8,85.8 L2008.6,85.6 L2010.4,85.4 L2012.3,85.3 L2014.1,85.1 L2015.9,84.9 L2017.7,84.7 L2019.6,84.6 L2021.4,84.4 L2023.2,84.2 L2025.0,84.0 L2026.9,83.9 L2028.7,83.7 L2030.5,83.5 L2032.4,83.4 L2034.2,83.2 L2036.0,83.0 L2037.8,82.8 L2039.7,82.7 L2041.5,82.5 L2043.3,82.3 L2045.2,82.2 L2047.0,82.0 L2048.8,81.8 L2050.7,81.7 L2052.5,81.5 L2054.3,81.3 L2056.2,81.2 L2058.0,81.0 L2059.8,80.8 L2061.6,80.6 L2063.5,80.5 L2065.3,80.3 L2067.2,80.2 L2069.0,80.0 L2070.8,79.8 L2072.7,79.7 L2074.5,79.5 L2076.3,79.3 L2078.2,79.2 L2080.0,79.0 L2081.8,78.8 L2083.7,78.7 L2085.5,78.5 L2087.4,78.4 L2089.2,78.2 L2091.0,78.0 L2092.9,77.9 L2094.7,77.7 L2096.6,77.6 L2098.4,77.4 L2100.2,77.2 L2102.1,77.1 L2103.9,76.9 L2105.8,76.8 L2107.6,76.6 L2109.5,76.5 L2111.3,76.3 L2113.1,76.1 L2115.0,76.0 L2116.8,75.8 L2118.7,75.7 L2120.5,75.5 L2122.4,75.4 L2124.2,75.2 L2126.1,75.1 L2127.9,74.9 L2129.8,74.8 L2131.6,74.6 L2133.5,74.5 L2135.3,74.3 L2137.2,74.2 L2139.0,74.0 L2140.9,73.9 L2142.7,73.7 L2144.6,73.6 L2146.4,73.4 L2148.3,73.3 L2150.1,73.1 L2152.0,73.0 L2153.9,72.9 L2155.7,72.7 L2157.6,72.6 L2159.4,72.4 L2161.3,72.3 L2163.1,72.1 L2165.0,72.0 L2166.9,71.9 L2168.7,71.7 L2170.6,71.6 L2172.5,71.5 L2174.3,71.3 L2176.2,71.2 L2178.0,71.0 L2179.9,70.9 L2181.8,70.8 L2183.6,70.6 L2185.5,70.5 L2187.4,70.4 L2189.2,70.2 L2191.1,70.1 L2193.0,70.0 L2194.8,69.8 L2196.7,69.7 L2198.6,69.6 L2200.4,69.4 L2202.3,69.3 L2204.2,69.2 L2206.1,69.1 L2207.9,68.9 L2209.8,68.8 L2211.7,68.7 L2213.5,68.5 L2215.4,68.4 L2217.3,68.3 L2219.2,68.2 L2221.1,68.1 L2222.9,67.9 L2224.8,67.8 L2226.7,67.7 L2228.6,67.6 L2230.4,67.4 L2232.3,67.3 L2234.2,67.2 L2236.1,67.1 L2238.0,67.0 L2239.9,66.9 L2241.7,66.7 L2243.6,66.6 L2245.5,66.5 L2247.4,66.4 L2249.3,66.3 L2251.2,66.2 L2253.1,66.1 L2255.0,66.0 L2256.8,65.8 L2258.7,65.7 L2260.6,65.6 L2262.5,65.5 L2264.4,65.4 L2266.3,65.3 L2268.2,65.2 L2270.1,65.1 L2272.0,65.0 L2273.9,64.9 L2275.8,64.8 L2277.7,64.7 L2279.6,64.6 L2281.5,64.5 L2283.4,64.4 L2285.3,64.3 L2287.2,64.2 L2289.1,64.1 L2291.0,64.0 L2292.9,63.9 L2294.8,63.8 L2296.7,63.7 L2298.6,63.6 L2300.5,63.5 L2302.4,63.4 L2304.3,63.3 L2306.2,63.2 L2308.1,63.1 L2310.0,63.0 L2312.0,63.0 L2313.9,62.9 L2315.8,62.8 L2317.7,62.7 L2319.6,62.6 L2321.5,62.5 L2323.4,62.4 L2325.4,62.4 L2327.3,62.3 L2329.2,62.2 L2331.1,62.1 L2333.0,62.0 L2335.0,62.0 L2336.9,61.9 L2338.8,61.8 L2340.7,61.7 L2342.6,61.6 L2344.6,61.6 L2346.5,61.5 L2348.4,61.4 L2350.4,61.4 L2352.3,61.3" fill="none" stroke="#008a8e" stroke-width="8.5" stroke-linejoin="round"/>
<rect x="369" y="1379.5" width="356" height="6" fill="#7890e0"/>
<rect x="725" y="1379.5" width="190" height="6" fill="#6a94d4"/>
<line x1="1062.2" y1="583.2" x2="1459.0" y2="820.0" stroke="#000" stroke-width="7.5"/><path d="M1045.0,573.0 L1075.9,603.1 L1086.2,585.9 Z" fill="#000"/>
<line x1="1068.2" y1="761.2" x2="1467.0" y2="998.0" stroke="#000" stroke-width="7.5"/><path d="M1051.0,751.0 L1082.0,781.0 L1092.2,763.8 Z" fill="#000"/>
<line x1="1050.2" y1="909.2" x2="1449.0" y2="1145.0" stroke="#000" stroke-width="7.5"/><path d="M1033.0,899.0 L1064.1,929.0 L1074.2,911.8 Z" fill="#000"/>
<line x1="1073.2" y1="1092.1" x2="1451.0" y2="1314.0" stroke="#000" stroke-width="7.5"/><path d="M1056.0,1082.0 L1087.2,1111.9 L1097.3,1094.6 Z" fill="#000"/>
<text x="0" y="0" transform="translate(315,1408.0) scale(0.990,1)" text-anchor="end" class="b" font-size="98">0</text>
<text x="0" y="0" transform="translate(315,1144.4) scale(0.990,1)" text-anchor="end" class="b" font-size="98">20</text>
<text x="0" y="0" transform="translate(315,880.8) scale(0.990,1)" text-anchor="end" class="b" font-size="98">40</text>
<text x="0" y="0" transform="translate(315,617.2) scale(0.990,1)" text-anchor="end" class="b" font-size="98">60</text>
<text x="0" y="0" transform="translate(315,353.6) scale(0.990,1)" text-anchor="end" class="b" font-size="98">80</text>
<text x="0" y="0" transform="translate(315,90.0) scale(0.990,1)" text-anchor="end" class="b" font-size="98">100</text>
<text x="0" y="0" transform="translate(363.0,1632) scale(0.960,1)" text-anchor="middle" class="b" font-size="98">200</text>
<text x="0" y="0" transform="translate(695.5,1632) scale(0.960,1)" text-anchor="middle" class="b" font-size="98">300</text>
<text x="0" y="0" transform="translate(1028.0,1632) scale(0.960,1)" text-anchor="middle" class="b" font-size="98">400</text>
<text x="0" y="0" transform="translate(1360.5,1632) scale(0.960,1)" text-anchor="middle" class="b" font-size="98">500</text>
<text x="0" y="0" transform="translate(1693.0,1632) scale(0.960,1)" text-anchor="middle" class="b" font-size="98">600</text>
<text x="0" y="0" transform="translate(2025.5,1632) scale(0.960,1)" text-anchor="middle" class="b" font-size="98">700</text>
<text x="0" y="0" transform="translate(2358.0,1632) scale(0.960,1)" text-anchor="middle" class="b" font-size="98">800</text>
<text x="0" y="0" transform="translate(944,1823) scale(0.906,1)" class="b t" font-size="121">Wavelength (nm)</text>
<text x="0" y="0" transform="translate(106,1273) rotate(-90) scale(0.907,1)" class="b t" font-size="121">Transmittance (%)</text>
<text x="0" y="0" transform="translate(1486,849.4) scale(1.000,1)" class="r" font-size="125">(a)</text>
<text x="0" y="0" transform="translate(1486,1019.4) scale(0.985,1)" class="r" font-size="125">(b)</text>
<text x="0" y="0" transform="translate(1492,1190.4) scale(0.945,1)" class="r" font-size="125">(c)</text>
<text x="0" y="0" transform="translate(1492,1363.4) scale(1.000,1)" class="r" font-size="125">(d)</text>
</svg>
</body></html>
